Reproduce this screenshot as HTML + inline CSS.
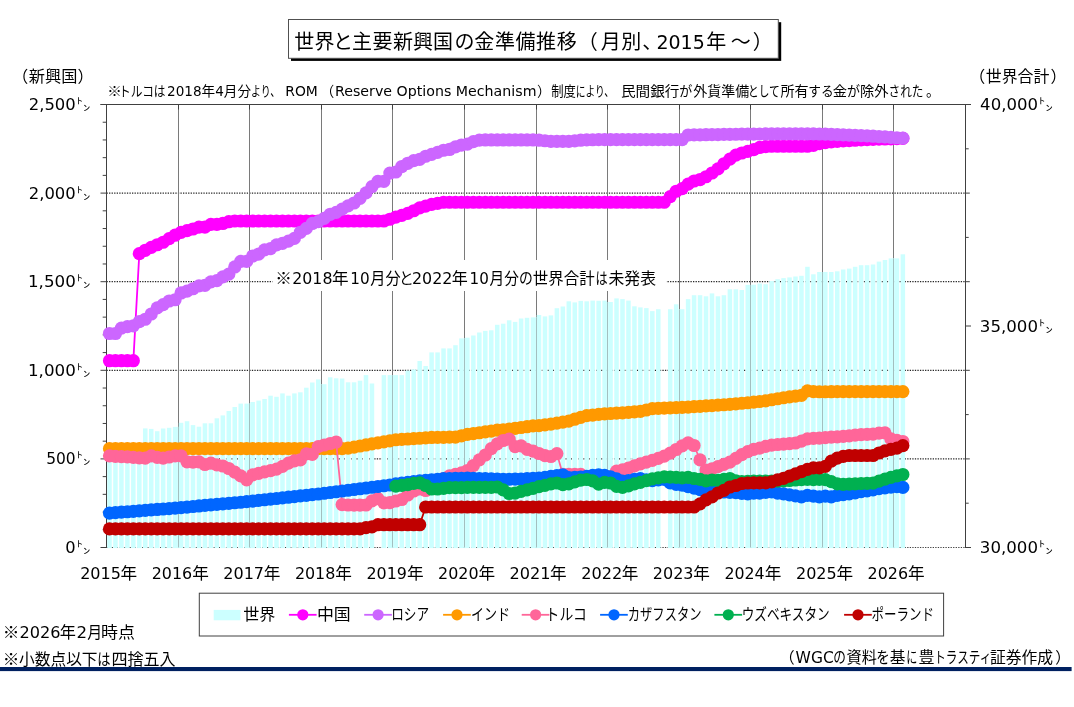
<!DOCTYPE html>
<html lang="ja"><head><meta charset="utf-8"><title>世界と主要新興国の金準備推移</title>
<style>html,body{margin:0;padding:0;background:#fff}svg{display:block}text{font-family:'Liberation Sans','Noto Sans CJK JP',sans-serif;fill:#000}.dj{font-family:'DejaVu Sans','Liberation Sans','Noto Sans CJK JP',sans-serif}.jp{font-family:'Noto Sans CJK JP',sans-serif}</style></head><body>
<svg width="1074" height="707" viewBox="0 0 1074 707">
<rect width="1074" height="707" fill="#fff"/>
<g stroke="#262626" stroke-width="1.25" fill="none">
<line x1="106.5" y1="458.9" x2="965.5" y2="458.9" stroke-dasharray="1.3 1.25"/>
<line x1="106.5" y1="370.3" x2="965.5" y2="370.3" stroke-dasharray="1.3 1.25"/>
<line x1="106.5" y1="281.7" x2="965.5" y2="281.7" stroke-dasharray="1.3 1.25"/>
<line x1="106.5" y1="193.1" x2="965.5" y2="193.1" stroke-dasharray="1.3 1.25"/>
</g>
<g stroke="#7A7A7A" stroke-width="1" fill="none">
<line x1="178.5" y1="104.5" x2="178.5" y2="547.5"/>
<line x1="249.5" y1="104.5" x2="249.5" y2="547.5"/>
<line x1="321.5" y1="104.5" x2="321.5" y2="547.5"/>
<line x1="392.5" y1="104.5" x2="392.5" y2="547.5"/>
<line x1="464.5" y1="104.5" x2="464.5" y2="547.5"/>
<line x1="536.5" y1="104.5" x2="536.5" y2="547.5"/>
<line x1="607.5" y1="104.5" x2="607.5" y2="547.5"/>
<line x1="679.5" y1="104.5" x2="679.5" y2="547.5"/>
<line x1="750.5" y1="104.5" x2="750.5" y2="547.5"/>
<line x1="822.5" y1="104.5" x2="822.5" y2="547.5"/>
<line x1="893.5" y1="104.5" x2="893.5" y2="547.5"/>
</g>
<line x1="106.5" y1="547.5" x2="965.5" y2="547.5" stroke="#404040" stroke-width="1" stroke-dasharray="1.3 1.25"/>
<g fill="#CCFFFF">
<rect x="107.23" y="455.3" width="4.5" height="92.8"/>
<rect x="113.2" y="455.3" width="4.5" height="92.8"/>
<rect x="119.16" y="455.3" width="4.5" height="92.8"/>
<rect x="125.13" y="455.3" width="4.5" height="92.8"/>
<rect x="131.09" y="455.3" width="4.5" height="92.8"/>
<rect x="137.06" y="455.3" width="4.5" height="92.8"/>
<rect x="143.02" y="428.4" width="4.5" height="119.7"/>
<rect x="148.99" y="428.9" width="4.5" height="119.2"/>
<rect x="154.95" y="431.2" width="4.5" height="116.9"/>
<rect x="160.92" y="428.5" width="4.5" height="119.6"/>
<rect x="166.89" y="427.8" width="4.5" height="120.3"/>
<rect x="172.85" y="426.9" width="4.5" height="121.2"/>
<rect x="178.82" y="422.8" width="4.5" height="125.3"/>
<rect x="184.78" y="421.2" width="4.5" height="126.9"/>
<rect x="190.75" y="425.1" width="4.5" height="123"/>
<rect x="196.71" y="426.7" width="4.5" height="121.4"/>
<rect x="202.68" y="423.3" width="4.5" height="124.8"/>
<rect x="208.64" y="423.3" width="4.5" height="124.8"/>
<rect x="214.61" y="418.3" width="4.5" height="129.8"/>
<rect x="220.57" y="415.4" width="4.5" height="132.7"/>
<rect x="226.54" y="411" width="4.5" height="137.1"/>
<rect x="232.5" y="407" width="4.5" height="141.1"/>
<rect x="238.47" y="403.6" width="4.5" height="144.5"/>
<rect x="244.43" y="403.6" width="4.5" height="144.5"/>
<rect x="250.4" y="402" width="4.5" height="146.1"/>
<rect x="256.36" y="400.6" width="4.5" height="147.5"/>
<rect x="262.33" y="399" width="4.5" height="149.1"/>
<rect x="268.3" y="395.7" width="4.5" height="152.4"/>
<rect x="274.26" y="396.8" width="4.5" height="151.3"/>
<rect x="280.23" y="393.4" width="4.5" height="154.7"/>
<rect x="286.19" y="395.7" width="4.5" height="152.4"/>
<rect x="292.16" y="393.4" width="4.5" height="154.7"/>
<rect x="298.12" y="392.3" width="4.5" height="155.8"/>
<rect x="304.09" y="387.7" width="4.5" height="160.4"/>
<rect x="310.05" y="382.5" width="4.5" height="165.6"/>
<rect x="316.02" y="379.4" width="4.5" height="168.7"/>
<rect x="321.98" y="384.2" width="4.5" height="163.9"/>
<rect x="327.95" y="377.3" width="4.5" height="170.8"/>
<rect x="333.91" y="378.3" width="4.5" height="169.8"/>
<rect x="339.88" y="378.5" width="4.5" height="169.6"/>
<rect x="345.84" y="382.3" width="4.5" height="165.8"/>
<rect x="351.81" y="382.3" width="4.5" height="165.8"/>
<rect x="357.77" y="380.7" width="4.5" height="167.4"/>
<rect x="363.74" y="375.1" width="4.5" height="173"/>
<rect x="369.7" y="383.5" width="4.5" height="164.6"/>
<rect x="381.64" y="375.1" width="4.5" height="173"/>
<rect x="387.6" y="375.1" width="4.5" height="173"/>
<rect x="393.57" y="375.1" width="4.5" height="173"/>
<rect x="399.53" y="375.1" width="4.5" height="173"/>
<rect x="405.5" y="370.6" width="4.5" height="177.5"/>
<rect x="411.46" y="369.4" width="4.5" height="178.7"/>
<rect x="417.43" y="361" width="4.5" height="187.1"/>
<rect x="423.39" y="366" width="4.5" height="182.1"/>
<rect x="429.36" y="352.4" width="4.5" height="195.7"/>
<rect x="435.32" y="352.4" width="4.5" height="195.7"/>
<rect x="441.29" y="348.4" width="4.5" height="199.7"/>
<rect x="447.25" y="348.4" width="4.5" height="199.7"/>
<rect x="453.22" y="345.2" width="4.5" height="202.9"/>
<rect x="459.18" y="338.4" width="4.5" height="209.7"/>
<rect x="465.15" y="337.7" width="4.5" height="210.4"/>
<rect x="471.11" y="335.5" width="4.5" height="212.6"/>
<rect x="477.08" y="332.5" width="4.5" height="215.6"/>
<rect x="483.05" y="330.9" width="4.5" height="217.2"/>
<rect x="489.01" y="330.3" width="4.5" height="217.8"/>
<rect x="494.98" y="324.8" width="4.5" height="223.3"/>
<rect x="500.94" y="323.7" width="4.5" height="224.4"/>
<rect x="506.91" y="320.3" width="4.5" height="227.8"/>
<rect x="512.87" y="321.9" width="4.5" height="226.2"/>
<rect x="518.84" y="318.5" width="4.5" height="229.6"/>
<rect x="524.8" y="317.8" width="4.5" height="230.3"/>
<rect x="530.77" y="317.4" width="4.5" height="230.7"/>
<rect x="536.73" y="315" width="4.5" height="233.1"/>
<rect x="542.7" y="316.4" width="4.5" height="231.7"/>
<rect x="548.66" y="315.4" width="4.5" height="232.7"/>
<rect x="554.63" y="308.2" width="4.5" height="239.9"/>
<rect x="560.59" y="306.5" width="4.5" height="241.6"/>
<rect x="566.56" y="301.3" width="4.5" height="246.8"/>
<rect x="572.52" y="302.4" width="4.5" height="245.7"/>
<rect x="578.49" y="300.9" width="4.5" height="247.2"/>
<rect x="584.45" y="301.3" width="4.5" height="246.8"/>
<rect x="590.42" y="300.6" width="4.5" height="247.5"/>
<rect x="596.39" y="300.8" width="4.5" height="247.3"/>
<rect x="602.35" y="300.6" width="4.5" height="247.5"/>
<rect x="608.32" y="302" width="4.5" height="246.1"/>
<rect x="614.28" y="298.4" width="4.5" height="249.7"/>
<rect x="620.25" y="299.1" width="4.5" height="249"/>
<rect x="626.21" y="300.6" width="4.5" height="247.5"/>
<rect x="632.18" y="306.3" width="4.5" height="241.8"/>
<rect x="638.14" y="307.4" width="4.5" height="240.7"/>
<rect x="644.11" y="308.1" width="4.5" height="240"/>
<rect x="650.07" y="311.1" width="4.5" height="237"/>
<rect x="656.04" y="309.2" width="4.5" height="238.9"/>
<rect x="667.97" y="309.2" width="4.5" height="238.9"/>
<rect x="673.93" y="304.3" width="4.5" height="243.8"/>
<rect x="679.9" y="309.2" width="4.5" height="238.9"/>
<rect x="685.86" y="299.1" width="4.5" height="249"/>
<rect x="691.83" y="295.2" width="4.5" height="252.9"/>
<rect x="697.8" y="295.2" width="4.5" height="252.9"/>
<rect x="703.76" y="296.3" width="4.5" height="251.8"/>
<rect x="709.73" y="293.4" width="4.5" height="254.7"/>
<rect x="715.69" y="296.3" width="4.5" height="251.8"/>
<rect x="721.66" y="295.2" width="4.5" height="252.9"/>
<rect x="727.62" y="289.3" width="4.5" height="258.8"/>
<rect x="733.59" y="289.3" width="4.5" height="258.8"/>
<rect x="739.55" y="290" width="4.5" height="258.1"/>
<rect x="745.52" y="284.9" width="4.5" height="263.2"/>
<rect x="751.48" y="284.7" width="4.5" height="263.4"/>
<rect x="757.45" y="283.5" width="4.5" height="264.6"/>
<rect x="763.41" y="284.2" width="4.5" height="263.9"/>
<rect x="769.38" y="281" width="4.5" height="267.1"/>
<rect x="775.34" y="279.2" width="4.5" height="268.9"/>
<rect x="781.31" y="278.1" width="4.5" height="270"/>
<rect x="787.27" y="277.4" width="4.5" height="270.7"/>
<rect x="793.24" y="276.5" width="4.5" height="271.6"/>
<rect x="799.2" y="275.8" width="4.5" height="272.3"/>
<rect x="805.17" y="266.8" width="4.5" height="281.3"/>
<rect x="811.14" y="274.3" width="4.5" height="273.8"/>
<rect x="817.1" y="272" width="4.5" height="276.1"/>
<rect x="823.07" y="272" width="4.5" height="276.1"/>
<rect x="829.03" y="272" width="4.5" height="276.1"/>
<rect x="835" y="271.3" width="4.5" height="276.8"/>
<rect x="840.96" y="269.5" width="4.5" height="278.6"/>
<rect x="846.93" y="268.6" width="4.5" height="279.5"/>
<rect x="852.89" y="266.8" width="4.5" height="281.3"/>
<rect x="858.86" y="265.2" width="4.5" height="282.9"/>
<rect x="864.82" y="265.2" width="4.5" height="282.9"/>
<rect x="870.79" y="264.5" width="4.5" height="283.6"/>
<rect x="876.75" y="261.6" width="4.5" height="286.5"/>
<rect x="882.72" y="260" width="4.5" height="288.1"/>
<rect x="888.68" y="258.4" width="4.5" height="289.7"/>
<rect x="894.65" y="258.4" width="4.5" height="289.7"/>
<rect x="900.61" y="254.3" width="4.5" height="293.8"/>
</g>
<rect x="177.15" y="426.9" width="1.87" height="121.2" fill="#CCFFFF"/>
<line x1="178.5" y1="426.9" x2="178.5" y2="547.5" stroke="#A3BFBF" stroke-width="1"/>
<rect x="248.73" y="403.6" width="1.87" height="144.5" fill="#CCFFFF"/>
<line x1="249.5" y1="403.6" x2="249.5" y2="547.5" stroke="#A3BFBF" stroke-width="1"/>
<rect x="320.32" y="384.2" width="1.87" height="163.9" fill="#CCFFFF"/>
<line x1="321.5" y1="384.2" x2="321.5" y2="547.5" stroke="#A3BFBF" stroke-width="1"/>
<rect x="391.9" y="375.1" width="1.87" height="173" fill="#CCFFFF"/>
<line x1="392.5" y1="375.1" x2="392.5" y2="547.5" stroke="#A3BFBF" stroke-width="1"/>
<rect x="463.48" y="338.4" width="1.87" height="209.7" fill="#CCFFFF"/>
<line x1="464.5" y1="338.4" x2="464.5" y2="547.5" stroke="#A3BFBF" stroke-width="1"/>
<rect x="535.07" y="317.4" width="1.87" height="230.7" fill="#CCFFFF"/>
<line x1="536.5" y1="317.4" x2="536.5" y2="547.5" stroke="#A3BFBF" stroke-width="1"/>
<rect x="606.65" y="302" width="1.87" height="246.1" fill="#CCFFFF"/>
<line x1="607.5" y1="302" x2="607.5" y2="547.5" stroke="#A3BFBF" stroke-width="1"/>
<rect x="678.23" y="309.2" width="1.87" height="238.9" fill="#CCFFFF"/>
<line x1="679.5" y1="309.2" x2="679.5" y2="547.5" stroke="#A3BFBF" stroke-width="1"/>
<rect x="749.82" y="284.9" width="1.87" height="263.2" fill="#CCFFFF"/>
<line x1="750.5" y1="284.9" x2="750.5" y2="547.5" stroke="#A3BFBF" stroke-width="1"/>
<rect x="821.4" y="272" width="1.87" height="276.1" fill="#CCFFFF"/>
<line x1="822.5" y1="272" x2="822.5" y2="547.5" stroke="#A3BFBF" stroke-width="1"/>
<rect x="892.98" y="258.4" width="1.87" height="289.7" fill="#CCFFFF"/>
<line x1="893.5" y1="258.4" x2="893.5" y2="547.5" stroke="#A3BFBF" stroke-width="1"/>
<g stroke="#404040" stroke-width="1" fill="none">
<line x1="106.5" y1="104" x2="106.5" y2="548"/>
<line x1="965.5" y1="104" x2="965.5" y2="548"/>
<line x1="100.5" y1="104.5" x2="971" y2="104.5"/>
<line x1="178.5" y1="104.5" x2="178.5" y2="109.5" stroke-width="1"/>
<line x1="249.5" y1="104.5" x2="249.5" y2="109.5" stroke-width="1"/>
<line x1="321.5" y1="104.5" x2="321.5" y2="109.5" stroke-width="1"/>
<line x1="392.5" y1="104.5" x2="392.5" y2="109.5" stroke-width="1"/>
<line x1="464.5" y1="104.5" x2="464.5" y2="109.5" stroke-width="1"/>
<line x1="536.5" y1="104.5" x2="536.5" y2="109.5" stroke-width="1"/>
<line x1="607.5" y1="104.5" x2="607.5" y2="109.5" stroke-width="1"/>
<line x1="679.5" y1="104.5" x2="679.5" y2="109.5" stroke-width="1"/>
<line x1="750.5" y1="104.5" x2="750.5" y2="109.5" stroke-width="1"/>
<line x1="822.5" y1="104.5" x2="822.5" y2="109.5" stroke-width="1"/>
<line x1="893.5" y1="104.5" x2="893.5" y2="109.5" stroke-width="1"/>
<line x1="100.5" y1="547.5" x2="106.5" y2="547.5" stroke-width="1"/>
<line x1="102.7" y1="529.78" x2="106.5" y2="529.78" stroke-width="1"/>
<line x1="102.7" y1="512.06" x2="106.5" y2="512.06" stroke-width="1"/>
<line x1="102.7" y1="494.34" x2="106.5" y2="494.34" stroke-width="1"/>
<line x1="102.7" y1="476.62" x2="106.5" y2="476.62" stroke-width="1"/>
<line x1="100.5" y1="458.9" x2="106.5" y2="458.9" stroke-width="1"/>
<line x1="102.7" y1="441.18" x2="106.5" y2="441.18" stroke-width="1"/>
<line x1="102.7" y1="423.46" x2="106.5" y2="423.46" stroke-width="1"/>
<line x1="102.7" y1="405.74" x2="106.5" y2="405.74" stroke-width="1"/>
<line x1="102.7" y1="388.02" x2="106.5" y2="388.02" stroke-width="1"/>
<line x1="100.5" y1="370.3" x2="106.5" y2="370.3" stroke-width="1"/>
<line x1="102.7" y1="352.58" x2="106.5" y2="352.58" stroke-width="1"/>
<line x1="102.7" y1="334.86" x2="106.5" y2="334.86" stroke-width="1"/>
<line x1="102.7" y1="317.14" x2="106.5" y2="317.14" stroke-width="1"/>
<line x1="102.7" y1="299.42" x2="106.5" y2="299.42" stroke-width="1"/>
<line x1="100.5" y1="281.7" x2="106.5" y2="281.7" stroke-width="1"/>
<line x1="102.7" y1="263.98" x2="106.5" y2="263.98" stroke-width="1"/>
<line x1="102.7" y1="246.26" x2="106.5" y2="246.26" stroke-width="1"/>
<line x1="102.7" y1="228.54" x2="106.5" y2="228.54" stroke-width="1"/>
<line x1="102.7" y1="210.82" x2="106.5" y2="210.82" stroke-width="1"/>
<line x1="100.5" y1="193.1" x2="106.5" y2="193.1" stroke-width="1"/>
<line x1="102.7" y1="175.38" x2="106.5" y2="175.38" stroke-width="1"/>
<line x1="102.7" y1="157.66" x2="106.5" y2="157.66" stroke-width="1"/>
<line x1="102.7" y1="139.94" x2="106.5" y2="139.94" stroke-width="1"/>
<line x1="102.7" y1="122.22" x2="106.5" y2="122.22" stroke-width="1"/>
<line x1="100.5" y1="104.5" x2="106.5" y2="104.5" stroke-width="1"/>
<line x1="965.5" y1="547.5" x2="971" y2="547.5" stroke-width="1"/>
<line x1="965.5" y1="503.2" x2="968.7" y2="503.2" stroke-width="1"/>
<line x1="965.5" y1="458.9" x2="969.8" y2="458.9" stroke-width="1"/>
<line x1="965.5" y1="414.6" x2="968.7" y2="414.6" stroke-width="1"/>
<line x1="965.5" y1="370.3" x2="969.8" y2="370.3" stroke-width="1"/>
<line x1="965.5" y1="326" x2="971" y2="326" stroke-width="1"/>
<line x1="965.5" y1="281.7" x2="969.8" y2="281.7" stroke-width="1"/>
<line x1="965.5" y1="237.4" x2="968.7" y2="237.4" stroke-width="1"/>
<line x1="965.5" y1="193.1" x2="969.8" y2="193.1" stroke-width="1"/>
<line x1="965.5" y1="148.8" x2="968.7" y2="148.8" stroke-width="1"/>
<line x1="965.5" y1="104.5" x2="971" y2="104.5" stroke-width="1"/>
</g>
<rect x="272.5" y="260" width="394.2" height="31" fill="#fff"/>
<g>
<polyline fill="none" stroke="#FF00FF" stroke-width="1.8" stroke-linejoin="round" points="109.48,360.71 115.45,360.71 121.41,360.71 127.38,360.71 133.34,360.71 139.31,253.68 145.27,250.28 151.24,247.39 157.2,244.75 163.17,242.27 169.14,238.57 175.1,235.22 181.07,232.35 187.03,230.6 193,228.98 198.96,227.07 204.93,227.07 210.89,224.41 216.86,224.41 222.82,223.47 228.79,221.72 234.75,220.99 240.72,220.99 246.68,220.99 252.65,220.99 258.61,220.99 264.58,220.99 270.55,220.99 276.51,220.99 282.48,220.99 288.44,220.99 294.41,220.99 300.37,220.99 306.34,220.99 312.3,220.99 318.27,220.99 324.23,220.99 330.2,220.99 336.16,220.99 342.13,220.99 348.09,220.99 354.06,220.99 360.02,220.99 365.99,220.99 371.95,220.99 377.92,220.99 383.89,220.99 389.85,219.24 395.82,217.15 401.78,215.37 407.75,213.39 413.71,210.75 419.68,207.93 425.64,206.12 431.61,204.35 437.57,203.31 443.54,202.26 449.5,202.26 455.47,202.26 461.43,202.26 467.4,202.26 473.36,202.26 479.33,202.26 485.3,202.26 491.26,202.26 497.23,202.26 503.19,202.26 509.16,202.26 515.12,202.26 521.09,202.26 527.05,202.26 533.02,202.26 538.98,202.26 544.95,202.26 550.91,202.26 556.88,202.26 562.84,202.26 568.81,202.26 574.77,202.26 580.74,202.26 586.7,202.26 592.67,202.26 598.64,202.26 604.6,202.26 610.57,202.26 616.53,202.26 622.5,202.26 628.46,202.26 634.43,202.26 640.39,202.26 646.36,202.26 652.32,202.26 658.29,202.26 664.25,202.26 670.22,196.59 676.18,191.24 682.15,188.6 688.11,184.19 694.08,180.98 700.05,179.54 706.01,176.73 711.98,172.99 717.94,168.91 723.91,163.79 729.87,159.17 735.84,155.07 741.8,152.98 747.77,151.39 753.73,149.62 759.7,147.47 765.66,146.59 771.63,146.27 777.59,146.27 783.56,146.27 789.52,146.27 795.49,146.27 801.45,146.27 807.42,146.27 813.39,145.38 819.35,143.55 825.32,142.69 831.28,141.8 837.25,141.3 843.21,140.91 849.18,140.58 855.14,140.21 861.11,139.87 867.07,139.53 873.04,139.32 879,139.14 884.97,138.98 890.93,138.82 896.9,138.59 902.86,138.43"/>
<g fill="#FF00FF">
<circle cx="109.48" cy="360.71" r="6.6"/>
<circle cx="115.45" cy="360.71" r="6.6"/>
<circle cx="121.41" cy="360.71" r="6.6"/>
<circle cx="127.38" cy="360.71" r="6.6"/>
<circle cx="133.34" cy="360.71" r="6.6"/>
<circle cx="139.31" cy="253.68" r="6.6"/>
<circle cx="145.27" cy="250.28" r="6.6"/>
<circle cx="151.24" cy="247.39" r="6.6"/>
<circle cx="157.2" cy="244.75" r="6.6"/>
<circle cx="163.17" cy="242.27" r="6.6"/>
<circle cx="169.14" cy="238.57" r="6.6"/>
<circle cx="175.1" cy="235.22" r="6.6"/>
<circle cx="181.07" cy="232.35" r="6.6"/>
<circle cx="187.03" cy="230.6" r="6.6"/>
<circle cx="193" cy="228.98" r="6.6"/>
<circle cx="198.96" cy="227.07" r="6.6"/>
<circle cx="204.93" cy="227.07" r="6.6"/>
<circle cx="210.89" cy="224.41" r="6.6"/>
<circle cx="216.86" cy="224.41" r="6.6"/>
<circle cx="222.82" cy="223.47" r="6.6"/>
<circle cx="228.79" cy="221.72" r="6.6"/>
<circle cx="234.75" cy="220.99" r="6.6"/>
<circle cx="240.72" cy="220.99" r="6.6"/>
<circle cx="246.68" cy="220.99" r="6.6"/>
<circle cx="252.65" cy="220.99" r="6.6"/>
<circle cx="258.61" cy="220.99" r="6.6"/>
<circle cx="264.58" cy="220.99" r="6.6"/>
<circle cx="270.55" cy="220.99" r="6.6"/>
<circle cx="276.51" cy="220.99" r="6.6"/>
<circle cx="282.48" cy="220.99" r="6.6"/>
<circle cx="288.44" cy="220.99" r="6.6"/>
<circle cx="294.41" cy="220.99" r="6.6"/>
<circle cx="300.37" cy="220.99" r="6.6"/>
<circle cx="306.34" cy="220.99" r="6.6"/>
<circle cx="312.3" cy="220.99" r="6.6"/>
<circle cx="318.27" cy="220.99" r="6.6"/>
<circle cx="324.23" cy="220.99" r="6.6"/>
<circle cx="330.2" cy="220.99" r="6.6"/>
<circle cx="336.16" cy="220.99" r="6.6"/>
<circle cx="342.13" cy="220.99" r="6.6"/>
<circle cx="348.09" cy="220.99" r="6.6"/>
<circle cx="354.06" cy="220.99" r="6.6"/>
<circle cx="360.02" cy="220.99" r="6.6"/>
<circle cx="365.99" cy="220.99" r="6.6"/>
<circle cx="371.95" cy="220.99" r="6.6"/>
<circle cx="377.92" cy="220.99" r="6.6"/>
<circle cx="383.89" cy="220.99" r="6.6"/>
<circle cx="389.85" cy="219.24" r="6.6"/>
<circle cx="395.82" cy="217.15" r="6.6"/>
<circle cx="401.78" cy="215.37" r="6.6"/>
<circle cx="407.75" cy="213.39" r="6.6"/>
<circle cx="413.71" cy="210.75" r="6.6"/>
<circle cx="419.68" cy="207.93" r="6.6"/>
<circle cx="425.64" cy="206.12" r="6.6"/>
<circle cx="431.61" cy="204.35" r="6.6"/>
<circle cx="437.57" cy="203.31" r="6.6"/>
<circle cx="443.54" cy="202.26" r="6.6"/>
<circle cx="449.5" cy="202.26" r="6.6"/>
<circle cx="455.47" cy="202.26" r="6.6"/>
<circle cx="461.43" cy="202.26" r="6.6"/>
<circle cx="467.4" cy="202.26" r="6.6"/>
<circle cx="473.36" cy="202.26" r="6.6"/>
<circle cx="479.33" cy="202.26" r="6.6"/>
<circle cx="485.3" cy="202.26" r="6.6"/>
<circle cx="491.26" cy="202.26" r="6.6"/>
<circle cx="497.23" cy="202.26" r="6.6"/>
<circle cx="503.19" cy="202.26" r="6.6"/>
<circle cx="509.16" cy="202.26" r="6.6"/>
<circle cx="515.12" cy="202.26" r="6.6"/>
<circle cx="521.09" cy="202.26" r="6.6"/>
<circle cx="527.05" cy="202.26" r="6.6"/>
<circle cx="533.02" cy="202.26" r="6.6"/>
<circle cx="538.98" cy="202.26" r="6.6"/>
<circle cx="544.95" cy="202.26" r="6.6"/>
<circle cx="550.91" cy="202.26" r="6.6"/>
<circle cx="556.88" cy="202.26" r="6.6"/>
<circle cx="562.84" cy="202.26" r="6.6"/>
<circle cx="568.81" cy="202.26" r="6.6"/>
<circle cx="574.77" cy="202.26" r="6.6"/>
<circle cx="580.74" cy="202.26" r="6.6"/>
<circle cx="586.7" cy="202.26" r="6.6"/>
<circle cx="592.67" cy="202.26" r="6.6"/>
<circle cx="598.64" cy="202.26" r="6.6"/>
<circle cx="604.6" cy="202.26" r="6.6"/>
<circle cx="610.57" cy="202.26" r="6.6"/>
<circle cx="616.53" cy="202.26" r="6.6"/>
<circle cx="622.5" cy="202.26" r="6.6"/>
<circle cx="628.46" cy="202.26" r="6.6"/>
<circle cx="634.43" cy="202.26" r="6.6"/>
<circle cx="640.39" cy="202.26" r="6.6"/>
<circle cx="646.36" cy="202.26" r="6.6"/>
<circle cx="652.32" cy="202.26" r="6.6"/>
<circle cx="658.29" cy="202.26" r="6.6"/>
<circle cx="664.25" cy="202.26" r="6.6"/>
<circle cx="670.22" cy="196.59" r="6.6"/>
<circle cx="676.18" cy="191.24" r="6.6"/>
<circle cx="682.15" cy="188.6" r="6.6"/>
<circle cx="688.11" cy="184.19" r="6.6"/>
<circle cx="694.08" cy="180.98" r="6.6"/>
<circle cx="700.05" cy="179.54" r="6.6"/>
<circle cx="706.01" cy="176.73" r="6.6"/>
<circle cx="711.98" cy="172.99" r="6.6"/>
<circle cx="717.94" cy="168.91" r="6.6"/>
<circle cx="723.91" cy="163.79" r="6.6"/>
<circle cx="729.87" cy="159.17" r="6.6"/>
<circle cx="735.84" cy="155.07" r="6.6"/>
<circle cx="741.8" cy="152.98" r="6.6"/>
<circle cx="747.77" cy="151.39" r="6.6"/>
<circle cx="753.73" cy="149.62" r="6.6"/>
<circle cx="759.7" cy="147.47" r="6.6"/>
<circle cx="765.66" cy="146.59" r="6.6"/>
<circle cx="771.63" cy="146.27" r="6.6"/>
<circle cx="777.59" cy="146.27" r="6.6"/>
<circle cx="783.56" cy="146.27" r="6.6"/>
<circle cx="789.52" cy="146.27" r="6.6"/>
<circle cx="795.49" cy="146.27" r="6.6"/>
<circle cx="801.45" cy="146.27" r="6.6"/>
<circle cx="807.42" cy="146.27" r="6.6"/>
<circle cx="813.39" cy="145.38" r="6.6"/>
<circle cx="819.35" cy="143.55" r="6.6"/>
<circle cx="825.32" cy="142.69" r="6.6"/>
<circle cx="831.28" cy="141.8" r="6.6"/>
<circle cx="837.25" cy="141.3" r="6.6"/>
<circle cx="843.21" cy="140.91" r="6.6"/>
<circle cx="849.18" cy="140.58" r="6.6"/>
<circle cx="855.14" cy="140.21" r="6.6"/>
<circle cx="861.11" cy="139.87" r="6.6"/>
<circle cx="867.07" cy="139.53" r="6.6"/>
<circle cx="873.04" cy="139.32" r="6.6"/>
<circle cx="879" cy="139.14" r="6.6"/>
<circle cx="884.97" cy="138.98" r="6.6"/>
<circle cx="890.93" cy="138.82" r="6.6"/>
<circle cx="896.9" cy="138.59" r="6.6"/>
<circle cx="902.86" cy="138.43" r="6.6"/>
</g></g>
<g>
<polyline fill="none" stroke="#CC66FF" stroke-width="1.8" stroke-linejoin="round" points="109.48,333.5 115.45,333.5 121.41,328.13 127.38,326.6 133.34,325.84 139.31,321.57 145.27,319.23 151.24,314 157.2,307.89 163.17,304.67 169.14,301.01 175.1,299.77 181.07,292.97 187.03,291.16 193,288.75 198.96,285.94 204.93,285.33 210.89,281.93 216.86,280.67 222.82,276.95 228.79,274.13 234.75,266.97 240.72,261.39 246.68,261.39 252.65,256.01 258.61,254.18 264.58,249.8 270.55,248.6 276.51,244.84 282.48,243.3 288.44,241.12 294.41,238.34 300.37,232.28 306.34,228.33 312.3,223.47 318.27,221.66 324.23,218.32 330.2,214.28 336.16,212.4 342.13,209.08 348.09,205.82 354.06,203.02 360.02,198.42 365.99,192.92 371.95,186.69 377.92,181.37 383.89,181.37 389.85,173.08 395.82,171.98 401.78,166.54 407.75,163.28 413.71,160.6 419.68,159.41 425.64,156.26 431.61,154.36 437.57,152.34 443.54,150.24 449.5,149.47 455.47,146.83 461.43,145.04 467.4,144.14 473.36,141.68 479.33,140.08 485.3,139.96 491.26,139.96 497.23,139.96 503.19,139.96 509.16,139.96 515.12,139.96 521.09,139.96 527.05,139.96 533.02,139.96 538.98,140.21 544.95,140.76 550.91,141.3 556.88,141.3 562.84,141.3 568.81,141.3 574.77,140.83 580.74,140.21 586.7,139.94 592.67,139.76 598.64,139.66 604.6,139.66 610.57,139.66 616.53,139.66 622.5,139.66 628.46,139.66 634.43,139.66 640.39,139.66 646.36,139.66 652.32,139.66 658.29,139.66 664.25,139.66 670.22,139.66 676.18,139.66 682.15,139.66 688.11,134.98 694.08,134.89 700.05,134.8 706.01,134.71 711.98,134.62 717.94,134.54 723.91,134.45 729.87,134.36 735.84,134.27 741.8,134.18 747.77,134.09 753.73,134.09 759.7,134 765.66,133.92 771.63,133.83 777.59,133.74 783.56,133.74 789.52,133.74 795.49,133.74 801.45,133.74 807.42,133.83 813.39,133.92 819.35,134 825.32,134.09 831.28,134.36 837.25,134.62 843.21,134.89 849.18,135.16 855.14,135.42 861.11,135.69 867.07,135.95 873.04,136.22 879,136.57 884.97,136.93 890.93,137.28 896.9,137.73 902.86,138.17"/>
<g fill="#CC66FF">
<circle cx="109.48" cy="333.5" r="6.6"/>
<circle cx="115.45" cy="333.5" r="6.6"/>
<circle cx="121.41" cy="328.13" r="6.6"/>
<circle cx="127.38" cy="326.6" r="6.6"/>
<circle cx="133.34" cy="325.84" r="6.6"/>
<circle cx="139.31" cy="321.57" r="6.6"/>
<circle cx="145.27" cy="319.23" r="6.6"/>
<circle cx="151.24" cy="314" r="6.6"/>
<circle cx="157.2" cy="307.89" r="6.6"/>
<circle cx="163.17" cy="304.67" r="6.6"/>
<circle cx="169.14" cy="301.01" r="6.6"/>
<circle cx="175.1" cy="299.77" r="6.6"/>
<circle cx="181.07" cy="292.97" r="6.6"/>
<circle cx="187.03" cy="291.16" r="6.6"/>
<circle cx="193" cy="288.75" r="6.6"/>
<circle cx="198.96" cy="285.94" r="6.6"/>
<circle cx="204.93" cy="285.33" r="6.6"/>
<circle cx="210.89" cy="281.93" r="6.6"/>
<circle cx="216.86" cy="280.67" r="6.6"/>
<circle cx="222.82" cy="276.95" r="6.6"/>
<circle cx="228.79" cy="274.13" r="6.6"/>
<circle cx="234.75" cy="266.97" r="6.6"/>
<circle cx="240.72" cy="261.39" r="6.6"/>
<circle cx="246.68" cy="261.39" r="6.6"/>
<circle cx="252.65" cy="256.01" r="6.6"/>
<circle cx="258.61" cy="254.18" r="6.6"/>
<circle cx="264.58" cy="249.8" r="6.6"/>
<circle cx="270.55" cy="248.6" r="6.6"/>
<circle cx="276.51" cy="244.84" r="6.6"/>
<circle cx="282.48" cy="243.3" r="6.6"/>
<circle cx="288.44" cy="241.12" r="6.6"/>
<circle cx="294.41" cy="238.34" r="6.6"/>
<circle cx="300.37" cy="232.28" r="6.6"/>
<circle cx="306.34" cy="228.33" r="6.6"/>
<circle cx="312.3" cy="223.47" r="6.6"/>
<circle cx="318.27" cy="221.66" r="6.6"/>
<circle cx="324.23" cy="218.32" r="6.6"/>
<circle cx="330.2" cy="214.28" r="6.6"/>
<circle cx="336.16" cy="212.4" r="6.6"/>
<circle cx="342.13" cy="209.08" r="6.6"/>
<circle cx="348.09" cy="205.82" r="6.6"/>
<circle cx="354.06" cy="203.02" r="6.6"/>
<circle cx="360.02" cy="198.42" r="6.6"/>
<circle cx="365.99" cy="192.92" r="6.6"/>
<circle cx="371.95" cy="186.69" r="6.6"/>
<circle cx="377.92" cy="181.37" r="6.6"/>
<circle cx="383.89" cy="181.37" r="6.6"/>
<circle cx="389.85" cy="173.08" r="6.6"/>
<circle cx="395.82" cy="171.98" r="6.6"/>
<circle cx="401.78" cy="166.54" r="6.6"/>
<circle cx="407.75" cy="163.28" r="6.6"/>
<circle cx="413.71" cy="160.6" r="6.6"/>
<circle cx="419.68" cy="159.41" r="6.6"/>
<circle cx="425.64" cy="156.26" r="6.6"/>
<circle cx="431.61" cy="154.36" r="6.6"/>
<circle cx="437.57" cy="152.34" r="6.6"/>
<circle cx="443.54" cy="150.24" r="6.6"/>
<circle cx="449.5" cy="149.47" r="6.6"/>
<circle cx="455.47" cy="146.83" r="6.6"/>
<circle cx="461.43" cy="145.04" r="6.6"/>
<circle cx="467.4" cy="144.14" r="6.6"/>
<circle cx="473.36" cy="141.68" r="6.6"/>
<circle cx="479.33" cy="140.08" r="6.6"/>
<circle cx="485.3" cy="139.96" r="6.6"/>
<circle cx="491.26" cy="139.96" r="6.6"/>
<circle cx="497.23" cy="139.96" r="6.6"/>
<circle cx="503.19" cy="139.96" r="6.6"/>
<circle cx="509.16" cy="139.96" r="6.6"/>
<circle cx="515.12" cy="139.96" r="6.6"/>
<circle cx="521.09" cy="139.96" r="6.6"/>
<circle cx="527.05" cy="139.96" r="6.6"/>
<circle cx="533.02" cy="139.96" r="6.6"/>
<circle cx="538.98" cy="140.21" r="6.6"/>
<circle cx="544.95" cy="140.76" r="6.6"/>
<circle cx="550.91" cy="141.3" r="6.6"/>
<circle cx="556.88" cy="141.3" r="6.6"/>
<circle cx="562.84" cy="141.3" r="6.6"/>
<circle cx="568.81" cy="141.3" r="6.6"/>
<circle cx="574.77" cy="140.83" r="6.6"/>
<circle cx="580.74" cy="140.21" r="6.6"/>
<circle cx="586.7" cy="139.94" r="6.6"/>
<circle cx="592.67" cy="139.76" r="6.6"/>
<circle cx="598.64" cy="139.66" r="6.6"/>
<circle cx="604.6" cy="139.66" r="6.6"/>
<circle cx="610.57" cy="139.66" r="6.6"/>
<circle cx="616.53" cy="139.66" r="6.6"/>
<circle cx="622.5" cy="139.66" r="6.6"/>
<circle cx="628.46" cy="139.66" r="6.6"/>
<circle cx="634.43" cy="139.66" r="6.6"/>
<circle cx="640.39" cy="139.66" r="6.6"/>
<circle cx="646.36" cy="139.66" r="6.6"/>
<circle cx="652.32" cy="139.66" r="6.6"/>
<circle cx="658.29" cy="139.66" r="6.6"/>
<circle cx="664.25" cy="139.66" r="6.6"/>
<circle cx="670.22" cy="139.66" r="6.6"/>
<circle cx="676.18" cy="139.66" r="6.6"/>
<circle cx="682.15" cy="139.66" r="6.6"/>
<circle cx="688.11" cy="134.98" r="6.6"/>
<circle cx="694.08" cy="134.89" r="6.6"/>
<circle cx="700.05" cy="134.8" r="6.6"/>
<circle cx="706.01" cy="134.71" r="6.6"/>
<circle cx="711.98" cy="134.62" r="6.6"/>
<circle cx="717.94" cy="134.54" r="6.6"/>
<circle cx="723.91" cy="134.45" r="6.6"/>
<circle cx="729.87" cy="134.36" r="6.6"/>
<circle cx="735.84" cy="134.27" r="6.6"/>
<circle cx="741.8" cy="134.18" r="6.6"/>
<circle cx="747.77" cy="134.09" r="6.6"/>
<circle cx="753.73" cy="134.09" r="6.6"/>
<circle cx="759.7" cy="134" r="6.6"/>
<circle cx="765.66" cy="133.92" r="6.6"/>
<circle cx="771.63" cy="133.83" r="6.6"/>
<circle cx="777.59" cy="133.74" r="6.6"/>
<circle cx="783.56" cy="133.74" r="6.6"/>
<circle cx="789.52" cy="133.74" r="6.6"/>
<circle cx="795.49" cy="133.74" r="6.6"/>
<circle cx="801.45" cy="133.74" r="6.6"/>
<circle cx="807.42" cy="133.83" r="6.6"/>
<circle cx="813.39" cy="133.92" r="6.6"/>
<circle cx="819.35" cy="134" r="6.6"/>
<circle cx="825.32" cy="134.09" r="6.6"/>
<circle cx="831.28" cy="134.36" r="6.6"/>
<circle cx="837.25" cy="134.62" r="6.6"/>
<circle cx="843.21" cy="134.89" r="6.6"/>
<circle cx="849.18" cy="135.16" r="6.6"/>
<circle cx="855.14" cy="135.42" r="6.6"/>
<circle cx="861.11" cy="135.69" r="6.6"/>
<circle cx="867.07" cy="135.95" r="6.6"/>
<circle cx="873.04" cy="136.22" r="6.6"/>
<circle cx="879" cy="136.57" r="6.6"/>
<circle cx="884.97" cy="136.93" r="6.6"/>
<circle cx="890.93" cy="137.28" r="6.6"/>
<circle cx="896.9" cy="137.73" r="6.6"/>
<circle cx="902.86" cy="138.17" r="6.6"/>
</g></g>
<g>
<polyline fill="none" stroke="#FF9900" stroke-width="1.8" stroke-linejoin="round" points="109.48,448.68 115.45,448.67 121.41,448.67 127.38,448.67 133.34,448.67 139.31,448.67 145.27,448.67 151.24,448.67 157.2,448.67 163.17,448.67 169.14,448.67 175.1,448.67 181.07,448.66 187.03,448.66 193,448.66 198.96,448.66 204.93,448.66 210.89,448.66 216.86,448.66 222.82,448.66 228.79,448.66 234.75,448.66 240.72,448.66 246.68,448.65 252.65,448.65 258.61,448.65 264.58,448.65 270.55,448.65 276.51,448.65 282.48,448.65 288.44,448.65 294.41,448.65 300.37,448.65 306.34,448.65 312.3,448.64 318.27,448.64 324.23,448.64 330.2,448.64 336.16,448.64 342.13,448.64 348.09,448.09 354.06,447.05 360.02,446.01 365.99,444.97 371.95,443.93 377.92,442.89 383.89,441.84 389.85,440.8 395.82,439.76 401.78,439.38 407.75,438.99 413.71,438.61 419.68,438.23 425.64,437.84 431.61,437.46 437.57,437.37 443.54,437.28 449.5,437.19 455.47,437.1 461.43,435.78 467.4,434.45 473.36,433.6 479.33,432.75 485.3,431.89 491.26,431.04 497.23,430.19 503.19,429.84 509.16,429.06 515.12,428.28 521.09,427.5 527.05,426.72 533.02,425.94 538.98,425.59 544.95,424.88 550.91,424.17 556.88,423.16 562.84,422.16 568.81,421.16 574.77,419.21 580.74,417.44 586.7,415.66 592.67,415.04 598.64,414.42 604.6,413.8 610.57,413.48 616.53,413.15 622.5,412.83 628.46,412.36 634.43,411.88 640.39,411.41 646.36,409.99 652.32,408.58 658.29,408.31 664.25,408.1 670.22,407.9 676.18,407.69 682.15,407.36 688.11,407.03 694.08,406.7 700.05,406.32 706.01,405.94 711.98,405.56 717.94,405.15 723.91,404.74 729.87,404.32 735.84,403.79 741.8,403.26 747.77,402.73 753.73,402.2 759.7,401.49 765.66,400.78 771.63,399.77 777.59,398.77 783.56,397.77 789.52,396.94 795.49,396.11 801.45,395.29 807.42,390.86 813.39,391.56 819.35,391.74 825.32,391.73 831.28,391.72 837.25,391.7 843.21,391.69 849.18,391.68 855.14,391.67 861.11,391.65 867.07,391.64 873.04,391.63 879,391.61 884.97,391.6 890.93,391.59 896.9,391.58 902.86,391.56"/>
<g fill="#FF9900">
<circle cx="109.48" cy="448.68" r="6.6"/>
<circle cx="115.45" cy="448.67" r="6.6"/>
<circle cx="121.41" cy="448.67" r="6.6"/>
<circle cx="127.38" cy="448.67" r="6.6"/>
<circle cx="133.34" cy="448.67" r="6.6"/>
<circle cx="139.31" cy="448.67" r="6.6"/>
<circle cx="145.27" cy="448.67" r="6.6"/>
<circle cx="151.24" cy="448.67" r="6.6"/>
<circle cx="157.2" cy="448.67" r="6.6"/>
<circle cx="163.17" cy="448.67" r="6.6"/>
<circle cx="169.14" cy="448.67" r="6.6"/>
<circle cx="175.1" cy="448.67" r="6.6"/>
<circle cx="181.07" cy="448.66" r="6.6"/>
<circle cx="187.03" cy="448.66" r="6.6"/>
<circle cx="193" cy="448.66" r="6.6"/>
<circle cx="198.96" cy="448.66" r="6.6"/>
<circle cx="204.93" cy="448.66" r="6.6"/>
<circle cx="210.89" cy="448.66" r="6.6"/>
<circle cx="216.86" cy="448.66" r="6.6"/>
<circle cx="222.82" cy="448.66" r="6.6"/>
<circle cx="228.79" cy="448.66" r="6.6"/>
<circle cx="234.75" cy="448.66" r="6.6"/>
<circle cx="240.72" cy="448.66" r="6.6"/>
<circle cx="246.68" cy="448.65" r="6.6"/>
<circle cx="252.65" cy="448.65" r="6.6"/>
<circle cx="258.61" cy="448.65" r="6.6"/>
<circle cx="264.58" cy="448.65" r="6.6"/>
<circle cx="270.55" cy="448.65" r="6.6"/>
<circle cx="276.51" cy="448.65" r="6.6"/>
<circle cx="282.48" cy="448.65" r="6.6"/>
<circle cx="288.44" cy="448.65" r="6.6"/>
<circle cx="294.41" cy="448.65" r="6.6"/>
<circle cx="300.37" cy="448.65" r="6.6"/>
<circle cx="306.34" cy="448.65" r="6.6"/>
<circle cx="312.3" cy="448.64" r="6.6"/>
<circle cx="318.27" cy="448.64" r="6.6"/>
<circle cx="324.23" cy="448.64" r="6.6"/>
<circle cx="330.2" cy="448.64" r="6.6"/>
<circle cx="336.16" cy="448.64" r="6.6"/>
<circle cx="342.13" cy="448.64" r="6.6"/>
<circle cx="348.09" cy="448.09" r="6.6"/>
<circle cx="354.06" cy="447.05" r="6.6"/>
<circle cx="360.02" cy="446.01" r="6.6"/>
<circle cx="365.99" cy="444.97" r="6.6"/>
<circle cx="371.95" cy="443.93" r="6.6"/>
<circle cx="377.92" cy="442.89" r="6.6"/>
<circle cx="383.89" cy="441.84" r="6.6"/>
<circle cx="389.85" cy="440.8" r="6.6"/>
<circle cx="395.82" cy="439.76" r="6.6"/>
<circle cx="401.78" cy="439.38" r="6.6"/>
<circle cx="407.75" cy="438.99" r="6.6"/>
<circle cx="413.71" cy="438.61" r="6.6"/>
<circle cx="419.68" cy="438.23" r="6.6"/>
<circle cx="425.64" cy="437.84" r="6.6"/>
<circle cx="431.61" cy="437.46" r="6.6"/>
<circle cx="437.57" cy="437.37" r="6.6"/>
<circle cx="443.54" cy="437.28" r="6.6"/>
<circle cx="449.5" cy="437.19" r="6.6"/>
<circle cx="455.47" cy="437.1" r="6.6"/>
<circle cx="461.43" cy="435.78" r="6.6"/>
<circle cx="467.4" cy="434.45" r="6.6"/>
<circle cx="473.36" cy="433.6" r="6.6"/>
<circle cx="479.33" cy="432.75" r="6.6"/>
<circle cx="485.3" cy="431.89" r="6.6"/>
<circle cx="491.26" cy="431.04" r="6.6"/>
<circle cx="497.23" cy="430.19" r="6.6"/>
<circle cx="503.19" cy="429.84" r="6.6"/>
<circle cx="509.16" cy="429.06" r="6.6"/>
<circle cx="515.12" cy="428.28" r="6.6"/>
<circle cx="521.09" cy="427.5" r="6.6"/>
<circle cx="527.05" cy="426.72" r="6.6"/>
<circle cx="533.02" cy="425.94" r="6.6"/>
<circle cx="538.98" cy="425.59" r="6.6"/>
<circle cx="544.95" cy="424.88" r="6.6"/>
<circle cx="550.91" cy="424.17" r="6.6"/>
<circle cx="556.88" cy="423.16" r="6.6"/>
<circle cx="562.84" cy="422.16" r="6.6"/>
<circle cx="568.81" cy="421.16" r="6.6"/>
<circle cx="574.77" cy="419.21" r="6.6"/>
<circle cx="580.74" cy="417.44" r="6.6"/>
<circle cx="586.7" cy="415.66" r="6.6"/>
<circle cx="592.67" cy="415.04" r="6.6"/>
<circle cx="598.64" cy="414.42" r="6.6"/>
<circle cx="604.6" cy="413.8" r="6.6"/>
<circle cx="610.57" cy="413.48" r="6.6"/>
<circle cx="616.53" cy="413.15" r="6.6"/>
<circle cx="622.5" cy="412.83" r="6.6"/>
<circle cx="628.46" cy="412.36" r="6.6"/>
<circle cx="634.43" cy="411.88" r="6.6"/>
<circle cx="640.39" cy="411.41" r="6.6"/>
<circle cx="646.36" cy="409.99" r="6.6"/>
<circle cx="652.32" cy="408.58" r="6.6"/>
<circle cx="658.29" cy="408.31" r="6.6"/>
<circle cx="664.25" cy="408.1" r="6.6"/>
<circle cx="670.22" cy="407.9" r="6.6"/>
<circle cx="676.18" cy="407.69" r="6.6"/>
<circle cx="682.15" cy="407.36" r="6.6"/>
<circle cx="688.11" cy="407.03" r="6.6"/>
<circle cx="694.08" cy="406.7" r="6.6"/>
<circle cx="700.05" cy="406.32" r="6.6"/>
<circle cx="706.01" cy="405.94" r="6.6"/>
<circle cx="711.98" cy="405.56" r="6.6"/>
<circle cx="717.94" cy="405.15" r="6.6"/>
<circle cx="723.91" cy="404.74" r="6.6"/>
<circle cx="729.87" cy="404.32" r="6.6"/>
<circle cx="735.84" cy="403.79" r="6.6"/>
<circle cx="741.8" cy="403.26" r="6.6"/>
<circle cx="747.77" cy="402.73" r="6.6"/>
<circle cx="753.73" cy="402.2" r="6.6"/>
<circle cx="759.7" cy="401.49" r="6.6"/>
<circle cx="765.66" cy="400.78" r="6.6"/>
<circle cx="771.63" cy="399.77" r="6.6"/>
<circle cx="777.59" cy="398.77" r="6.6"/>
<circle cx="783.56" cy="397.77" r="6.6"/>
<circle cx="789.52" cy="396.94" r="6.6"/>
<circle cx="795.49" cy="396.11" r="6.6"/>
<circle cx="801.45" cy="395.29" r="6.6"/>
<circle cx="807.42" cy="390.86" r="6.6"/>
<circle cx="813.39" cy="391.56" r="6.6"/>
<circle cx="819.35" cy="391.74" r="6.6"/>
<circle cx="825.32" cy="391.73" r="6.6"/>
<circle cx="831.28" cy="391.72" r="6.6"/>
<circle cx="837.25" cy="391.7" r="6.6"/>
<circle cx="843.21" cy="391.69" r="6.6"/>
<circle cx="849.18" cy="391.68" r="6.6"/>
<circle cx="855.14" cy="391.67" r="6.6"/>
<circle cx="861.11" cy="391.65" r="6.6"/>
<circle cx="867.07" cy="391.64" r="6.6"/>
<circle cx="873.04" cy="391.63" r="6.6"/>
<circle cx="879" cy="391.61" r="6.6"/>
<circle cx="884.97" cy="391.6" r="6.6"/>
<circle cx="890.93" cy="391.59" r="6.6"/>
<circle cx="896.9" cy="391.58" r="6.6"/>
<circle cx="902.86" cy="391.56" r="6.6"/>
</g></g>
<g>
<polyline fill="none" stroke="#FF6699" stroke-width="1.8" stroke-linejoin="round" points="109.48,455.8 115.45,456.3 121.41,456.6 127.38,456.9 133.34,457.3 139.31,457.8 145.27,458.1 151.24,455.8 157.2,457.3 163.17,458.1 169.14,457 175.1,455.8 181.07,455.8 187.03,461.8 193,462.2 198.96,461.8 204.93,464.5 210.89,463.1 216.86,464.8 222.82,466 228.79,468.5 234.75,472.2 240.72,475.9 246.68,479.8 252.65,474.9 258.61,473.4 264.58,471.8 270.55,470.6 276.51,469.2 282.48,466.4 288.44,463.1 294.41,460.9 300.37,459.9 306.34,453.9 312.3,454.3 318.27,446.6 324.23,445 330.2,443.5 336.16,442 342.13,504.6 348.09,505 354.06,505.2 360.02,505.2 365.99,505 371.95,500.9 377.92,498.7 383.89,502.8 389.85,502.6 395.82,501 401.78,499.5 407.75,495 413.71,491 419.68,489 425.64,490.5 431.61,486 437.57,482 443.54,478.7 449.5,475.8 455.47,474.3 461.43,472.8 467.4,470.5 473.36,465.5 479.33,459.8 485.3,455 491.26,448.7 497.23,443.8 503.19,440.5 509.16,439.2 515.12,446.7 521.09,445.8 527.05,449.3 533.02,451.2 538.98,453.5 544.95,455.7 550.91,456.5 556.88,453.6 562.84,474.4 568.81,474.4 574.77,474.4 580.74,474.4 586.7,476.5 592.67,476.8 598.64,476.8 604.6,476.8 610.57,476.5 616.53,471.2 622.5,469.9 628.46,468.1 634.43,465.9 640.39,463.9 646.36,462.2 652.32,460.4 658.29,458.4 664.25,456.2 670.22,453.2 676.18,449.5 682.15,445.8 688.11,442.8 694.08,445.5 700.05,459.9 706.01,470 711.98,468.9 717.94,466.6 723.91,464.4 729.87,462.2 735.84,458.4 741.8,454.7 747.77,451.7 753.73,449.4 759.7,448.1 765.66,446.3 771.63,445.1 777.59,444.5 783.56,444.1 789.52,443.6 795.49,443 801.45,441.1 807.42,438.9 813.39,438.4 819.35,438.1 825.32,437.7 831.28,437.1 837.25,436.8 843.21,436.3 849.18,435.9 855.14,435.1 861.11,434.7 867.07,434.4 873.04,434.1 879,433.2 884.97,432.9 890.93,438.9 896.9,440.3 902.86,441.5"/>
<g fill="#FF6699">
<circle cx="109.48" cy="455.8" r="6.6"/>
<circle cx="115.45" cy="456.3" r="6.6"/>
<circle cx="121.41" cy="456.6" r="6.6"/>
<circle cx="127.38" cy="456.9" r="6.6"/>
<circle cx="133.34" cy="457.3" r="6.6"/>
<circle cx="139.31" cy="457.8" r="6.6"/>
<circle cx="145.27" cy="458.1" r="6.6"/>
<circle cx="151.24" cy="455.8" r="6.6"/>
<circle cx="157.2" cy="457.3" r="6.6"/>
<circle cx="163.17" cy="458.1" r="6.6"/>
<circle cx="169.14" cy="457" r="6.6"/>
<circle cx="175.1" cy="455.8" r="6.6"/>
<circle cx="181.07" cy="455.8" r="6.6"/>
<circle cx="187.03" cy="461.8" r="6.6"/>
<circle cx="193" cy="462.2" r="6.6"/>
<circle cx="198.96" cy="461.8" r="6.6"/>
<circle cx="204.93" cy="464.5" r="6.6"/>
<circle cx="210.89" cy="463.1" r="6.6"/>
<circle cx="216.86" cy="464.8" r="6.6"/>
<circle cx="222.82" cy="466" r="6.6"/>
<circle cx="228.79" cy="468.5" r="6.6"/>
<circle cx="234.75" cy="472.2" r="6.6"/>
<circle cx="240.72" cy="475.9" r="6.6"/>
<circle cx="246.68" cy="479.8" r="6.6"/>
<circle cx="252.65" cy="474.9" r="6.6"/>
<circle cx="258.61" cy="473.4" r="6.6"/>
<circle cx="264.58" cy="471.8" r="6.6"/>
<circle cx="270.55" cy="470.6" r="6.6"/>
<circle cx="276.51" cy="469.2" r="6.6"/>
<circle cx="282.48" cy="466.4" r="6.6"/>
<circle cx="288.44" cy="463.1" r="6.6"/>
<circle cx="294.41" cy="460.9" r="6.6"/>
<circle cx="300.37" cy="459.9" r="6.6"/>
<circle cx="306.34" cy="453.9" r="6.6"/>
<circle cx="312.3" cy="454.3" r="6.6"/>
<circle cx="318.27" cy="446.6" r="6.6"/>
<circle cx="324.23" cy="445" r="6.6"/>
<circle cx="330.2" cy="443.5" r="6.6"/>
<circle cx="336.16" cy="442" r="6.6"/>
<circle cx="342.13" cy="504.6" r="6.6"/>
<circle cx="348.09" cy="505" r="6.6"/>
<circle cx="354.06" cy="505.2" r="6.6"/>
<circle cx="360.02" cy="505.2" r="6.6"/>
<circle cx="365.99" cy="505" r="6.6"/>
<circle cx="371.95" cy="500.9" r="6.6"/>
<circle cx="377.92" cy="498.7" r="6.6"/>
<circle cx="383.89" cy="502.8" r="6.6"/>
<circle cx="389.85" cy="502.6" r="6.6"/>
<circle cx="395.82" cy="501" r="6.6"/>
<circle cx="401.78" cy="499.5" r="6.6"/>
<circle cx="407.75" cy="495" r="6.6"/>
<circle cx="413.71" cy="491" r="6.6"/>
<circle cx="419.68" cy="489" r="6.6"/>
<circle cx="425.64" cy="490.5" r="6.6"/>
<circle cx="431.61" cy="486" r="6.6"/>
<circle cx="437.57" cy="482" r="6.6"/>
<circle cx="443.54" cy="478.7" r="6.6"/>
<circle cx="449.5" cy="475.8" r="6.6"/>
<circle cx="455.47" cy="474.3" r="6.6"/>
<circle cx="461.43" cy="472.8" r="6.6"/>
<circle cx="467.4" cy="470.5" r="6.6"/>
<circle cx="473.36" cy="465.5" r="6.6"/>
<circle cx="479.33" cy="459.8" r="6.6"/>
<circle cx="485.3" cy="455" r="6.6"/>
<circle cx="491.26" cy="448.7" r="6.6"/>
<circle cx="497.23" cy="443.8" r="6.6"/>
<circle cx="503.19" cy="440.5" r="6.6"/>
<circle cx="509.16" cy="439.2" r="6.6"/>
<circle cx="515.12" cy="446.7" r="6.6"/>
<circle cx="521.09" cy="445.8" r="6.6"/>
<circle cx="527.05" cy="449.3" r="6.6"/>
<circle cx="533.02" cy="451.2" r="6.6"/>
<circle cx="538.98" cy="453.5" r="6.6"/>
<circle cx="544.95" cy="455.7" r="6.6"/>
<circle cx="550.91" cy="456.5" r="6.6"/>
<circle cx="556.88" cy="453.6" r="6.6"/>
<circle cx="562.84" cy="474.4" r="6.6"/>
<circle cx="568.81" cy="474.4" r="6.6"/>
<circle cx="574.77" cy="474.4" r="6.6"/>
<circle cx="580.74" cy="474.4" r="6.6"/>
<circle cx="586.7" cy="476.5" r="6.6"/>
<circle cx="592.67" cy="476.8" r="6.6"/>
<circle cx="598.64" cy="476.8" r="6.6"/>
<circle cx="604.6" cy="476.8" r="6.6"/>
<circle cx="610.57" cy="476.5" r="6.6"/>
<circle cx="616.53" cy="471.2" r="6.6"/>
<circle cx="622.5" cy="469.9" r="6.6"/>
<circle cx="628.46" cy="468.1" r="6.6"/>
<circle cx="634.43" cy="465.9" r="6.6"/>
<circle cx="640.39" cy="463.9" r="6.6"/>
<circle cx="646.36" cy="462.2" r="6.6"/>
<circle cx="652.32" cy="460.4" r="6.6"/>
<circle cx="658.29" cy="458.4" r="6.6"/>
<circle cx="664.25" cy="456.2" r="6.6"/>
<circle cx="670.22" cy="453.2" r="6.6"/>
<circle cx="676.18" cy="449.5" r="6.6"/>
<circle cx="682.15" cy="445.8" r="6.6"/>
<circle cx="688.11" cy="442.8" r="6.6"/>
<circle cx="694.08" cy="445.5" r="6.6"/>
<circle cx="700.05" cy="459.9" r="6.6"/>
<circle cx="706.01" cy="470" r="6.6"/>
<circle cx="711.98" cy="468.9" r="6.6"/>
<circle cx="717.94" cy="466.6" r="6.6"/>
<circle cx="723.91" cy="464.4" r="6.6"/>
<circle cx="729.87" cy="462.2" r="6.6"/>
<circle cx="735.84" cy="458.4" r="6.6"/>
<circle cx="741.8" cy="454.7" r="6.6"/>
<circle cx="747.77" cy="451.7" r="6.6"/>
<circle cx="753.73" cy="449.4" r="6.6"/>
<circle cx="759.7" cy="448.1" r="6.6"/>
<circle cx="765.66" cy="446.3" r="6.6"/>
<circle cx="771.63" cy="445.1" r="6.6"/>
<circle cx="777.59" cy="444.5" r="6.6"/>
<circle cx="783.56" cy="444.1" r="6.6"/>
<circle cx="789.52" cy="443.6" r="6.6"/>
<circle cx="795.49" cy="443" r="6.6"/>
<circle cx="801.45" cy="441.1" r="6.6"/>
<circle cx="807.42" cy="438.9" r="6.6"/>
<circle cx="813.39" cy="438.4" r="6.6"/>
<circle cx="819.35" cy="438.1" r="6.6"/>
<circle cx="825.32" cy="437.7" r="6.6"/>
<circle cx="831.28" cy="437.1" r="6.6"/>
<circle cx="837.25" cy="436.8" r="6.6"/>
<circle cx="843.21" cy="436.3" r="6.6"/>
<circle cx="849.18" cy="435.9" r="6.6"/>
<circle cx="855.14" cy="435.1" r="6.6"/>
<circle cx="861.11" cy="434.7" r="6.6"/>
<circle cx="867.07" cy="434.4" r="6.6"/>
<circle cx="873.04" cy="434.1" r="6.6"/>
<circle cx="879" cy="433.2" r="6.6"/>
<circle cx="884.97" cy="432.9" r="6.6"/>
<circle cx="890.93" cy="438.9" r="6.6"/>
<circle cx="896.9" cy="440.3" r="6.6"/>
<circle cx="902.86" cy="441.5" r="6.6"/>
</g></g>
<g>
<polyline fill="none" stroke="#0066FF" stroke-width="1.8" stroke-linejoin="round" points="109.48,513.1 115.45,512.65 121.41,512.19 127.38,511.74 133.34,511.28 139.31,510.83 145.27,510.37 151.24,509.92 157.2,509.46 163.17,509.01 169.14,508.55 175.1,508.1 181.07,507.57 187.03,507.03 193,506.5 198.96,505.97 204.93,505.43 210.89,504.9 216.86,504.37 222.82,503.83 228.79,503.3 234.75,502.77 240.72,502.23 246.68,501.7 252.65,501.06 258.61,500.42 264.58,499.77 270.55,499.13 276.51,498.49 282.48,497.85 288.44,497.21 294.41,496.57 300.37,495.93 306.34,495.28 312.3,494.64 318.27,494 324.23,493.25 330.2,492.5 336.16,491.75 342.13,491 348.09,490.25 354.06,489.5 360.02,488.75 365.99,488 371.95,487.25 377.92,486.5 383.89,485.75 389.85,485 395.82,483.9 401.78,483.15 407.75,482.4 413.71,481.65 419.68,480.9 425.64,480.35 431.61,479.8 437.57,479.25 443.54,478.7 449.5,478.57 455.47,478.45 461.43,478.32 467.4,478.2 473.36,478.37 479.33,478.53 485.3,478.7 491.26,478.93 497.23,479.17 503.19,479.4 509.16,479.27 515.12,479.13 521.09,479 527.05,478.7 533.02,478.4 538.98,478.1 544.95,477.3 550.91,476.47 556.88,475.63 562.84,474.8 568.81,477.6 574.77,477.35 580.74,477.1 586.7,476.25 592.67,475.4 598.64,474.8 604.6,475.4 610.57,476.8 616.53,478.9 622.5,481.2 628.46,480.7 634.43,479.4 640.39,478.7 646.36,479.8 652.32,480.6 658.29,479.9 664.25,479.3 670.22,482.9 676.18,484.4 682.15,485.1 688.11,486.6 694.08,488.1 700.05,489.6 706.01,490.3 711.98,491 717.94,491.5 723.91,492 729.87,492.3 735.84,492.6 741.8,493.3 747.77,493.8 753.73,493.1 759.7,493.1 765.66,492.3 771.63,491.8 777.59,493.1 783.56,493.8 789.52,494.9 795.49,495.8 801.45,496.8 807.42,495.3 813.39,496.1 819.35,496.8 825.32,496.1 831.28,496.8 837.25,495.3 843.21,494.6 849.18,493.8 855.14,492.8 861.11,491.6 867.07,490.8 873.04,489.8 879,488.6 884.97,487.9 890.93,487.1 896.9,486.6 902.86,487.4"/>
<g fill="#0066FF">
<circle cx="109.48" cy="513.1" r="6.6"/>
<circle cx="115.45" cy="512.65" r="6.6"/>
<circle cx="121.41" cy="512.19" r="6.6"/>
<circle cx="127.38" cy="511.74" r="6.6"/>
<circle cx="133.34" cy="511.28" r="6.6"/>
<circle cx="139.31" cy="510.83" r="6.6"/>
<circle cx="145.27" cy="510.37" r="6.6"/>
<circle cx="151.24" cy="509.92" r="6.6"/>
<circle cx="157.2" cy="509.46" r="6.6"/>
<circle cx="163.17" cy="509.01" r="6.6"/>
<circle cx="169.14" cy="508.55" r="6.6"/>
<circle cx="175.1" cy="508.1" r="6.6"/>
<circle cx="181.07" cy="507.57" r="6.6"/>
<circle cx="187.03" cy="507.03" r="6.6"/>
<circle cx="193" cy="506.5" r="6.6"/>
<circle cx="198.96" cy="505.97" r="6.6"/>
<circle cx="204.93" cy="505.43" r="6.6"/>
<circle cx="210.89" cy="504.9" r="6.6"/>
<circle cx="216.86" cy="504.37" r="6.6"/>
<circle cx="222.82" cy="503.83" r="6.6"/>
<circle cx="228.79" cy="503.3" r="6.6"/>
<circle cx="234.75" cy="502.77" r="6.6"/>
<circle cx="240.72" cy="502.23" r="6.6"/>
<circle cx="246.68" cy="501.7" r="6.6"/>
<circle cx="252.65" cy="501.06" r="6.6"/>
<circle cx="258.61" cy="500.42" r="6.6"/>
<circle cx="264.58" cy="499.77" r="6.6"/>
<circle cx="270.55" cy="499.13" r="6.6"/>
<circle cx="276.51" cy="498.49" r="6.6"/>
<circle cx="282.48" cy="497.85" r="6.6"/>
<circle cx="288.44" cy="497.21" r="6.6"/>
<circle cx="294.41" cy="496.57" r="6.6"/>
<circle cx="300.37" cy="495.93" r="6.6"/>
<circle cx="306.34" cy="495.28" r="6.6"/>
<circle cx="312.3" cy="494.64" r="6.6"/>
<circle cx="318.27" cy="494" r="6.6"/>
<circle cx="324.23" cy="493.25" r="6.6"/>
<circle cx="330.2" cy="492.5" r="6.6"/>
<circle cx="336.16" cy="491.75" r="6.6"/>
<circle cx="342.13" cy="491" r="6.6"/>
<circle cx="348.09" cy="490.25" r="6.6"/>
<circle cx="354.06" cy="489.5" r="6.6"/>
<circle cx="360.02" cy="488.75" r="6.6"/>
<circle cx="365.99" cy="488" r="6.6"/>
<circle cx="371.95" cy="487.25" r="6.6"/>
<circle cx="377.92" cy="486.5" r="6.6"/>
<circle cx="383.89" cy="485.75" r="6.6"/>
<circle cx="389.85" cy="485" r="6.6"/>
<circle cx="395.82" cy="483.9" r="6.6"/>
<circle cx="401.78" cy="483.15" r="6.6"/>
<circle cx="407.75" cy="482.4" r="6.6"/>
<circle cx="413.71" cy="481.65" r="6.6"/>
<circle cx="419.68" cy="480.9" r="6.6"/>
<circle cx="425.64" cy="480.35" r="6.6"/>
<circle cx="431.61" cy="479.8" r="6.6"/>
<circle cx="437.57" cy="479.25" r="6.6"/>
<circle cx="443.54" cy="478.7" r="6.6"/>
<circle cx="449.5" cy="478.57" r="6.6"/>
<circle cx="455.47" cy="478.45" r="6.6"/>
<circle cx="461.43" cy="478.32" r="6.6"/>
<circle cx="467.4" cy="478.2" r="6.6"/>
<circle cx="473.36" cy="478.37" r="6.6"/>
<circle cx="479.33" cy="478.53" r="6.6"/>
<circle cx="485.3" cy="478.7" r="6.6"/>
<circle cx="491.26" cy="478.93" r="6.6"/>
<circle cx="497.23" cy="479.17" r="6.6"/>
<circle cx="503.19" cy="479.4" r="6.6"/>
<circle cx="509.16" cy="479.27" r="6.6"/>
<circle cx="515.12" cy="479.13" r="6.6"/>
<circle cx="521.09" cy="479" r="6.6"/>
<circle cx="527.05" cy="478.7" r="6.6"/>
<circle cx="533.02" cy="478.4" r="6.6"/>
<circle cx="538.98" cy="478.1" r="6.6"/>
<circle cx="544.95" cy="477.3" r="6.6"/>
<circle cx="550.91" cy="476.47" r="6.6"/>
<circle cx="556.88" cy="475.63" r="6.6"/>
<circle cx="562.84" cy="474.8" r="6.6"/>
<circle cx="568.81" cy="477.6" r="6.6"/>
<circle cx="574.77" cy="477.35" r="6.6"/>
<circle cx="580.74" cy="477.1" r="6.6"/>
<circle cx="586.7" cy="476.25" r="6.6"/>
<circle cx="592.67" cy="475.4" r="6.6"/>
<circle cx="598.64" cy="474.8" r="6.6"/>
<circle cx="604.6" cy="475.4" r="6.6"/>
<circle cx="610.57" cy="476.8" r="6.6"/>
<circle cx="616.53" cy="478.9" r="6.6"/>
<circle cx="622.5" cy="481.2" r="6.6"/>
<circle cx="628.46" cy="480.7" r="6.6"/>
<circle cx="634.43" cy="479.4" r="6.6"/>
<circle cx="640.39" cy="478.7" r="6.6"/>
<circle cx="646.36" cy="479.8" r="6.6"/>
<circle cx="652.32" cy="480.6" r="6.6"/>
<circle cx="658.29" cy="479.9" r="6.6"/>
<circle cx="664.25" cy="479.3" r="6.6"/>
<circle cx="670.22" cy="482.9" r="6.6"/>
<circle cx="676.18" cy="484.4" r="6.6"/>
<circle cx="682.15" cy="485.1" r="6.6"/>
<circle cx="688.11" cy="486.6" r="6.6"/>
<circle cx="694.08" cy="488.1" r="6.6"/>
<circle cx="700.05" cy="489.6" r="6.6"/>
<circle cx="706.01" cy="490.3" r="6.6"/>
<circle cx="711.98" cy="491" r="6.6"/>
<circle cx="717.94" cy="491.5" r="6.6"/>
<circle cx="723.91" cy="492" r="6.6"/>
<circle cx="729.87" cy="492.3" r="6.6"/>
<circle cx="735.84" cy="492.6" r="6.6"/>
<circle cx="741.8" cy="493.3" r="6.6"/>
<circle cx="747.77" cy="493.8" r="6.6"/>
<circle cx="753.73" cy="493.1" r="6.6"/>
<circle cx="759.7" cy="493.1" r="6.6"/>
<circle cx="765.66" cy="492.3" r="6.6"/>
<circle cx="771.63" cy="491.8" r="6.6"/>
<circle cx="777.59" cy="493.1" r="6.6"/>
<circle cx="783.56" cy="493.8" r="6.6"/>
<circle cx="789.52" cy="494.9" r="6.6"/>
<circle cx="795.49" cy="495.8" r="6.6"/>
<circle cx="801.45" cy="496.8" r="6.6"/>
<circle cx="807.42" cy="495.3" r="6.6"/>
<circle cx="813.39" cy="496.1" r="6.6"/>
<circle cx="819.35" cy="496.8" r="6.6"/>
<circle cx="825.32" cy="496.1" r="6.6"/>
<circle cx="831.28" cy="496.8" r="6.6"/>
<circle cx="837.25" cy="495.3" r="6.6"/>
<circle cx="843.21" cy="494.6" r="6.6"/>
<circle cx="849.18" cy="493.8" r="6.6"/>
<circle cx="855.14" cy="492.8" r="6.6"/>
<circle cx="861.11" cy="491.6" r="6.6"/>
<circle cx="867.07" cy="490.8" r="6.6"/>
<circle cx="873.04" cy="489.8" r="6.6"/>
<circle cx="879" cy="488.6" r="6.6"/>
<circle cx="884.97" cy="487.9" r="6.6"/>
<circle cx="890.93" cy="487.1" r="6.6"/>
<circle cx="896.9" cy="486.6" r="6.6"/>
<circle cx="902.86" cy="487.4" r="6.6"/>
</g></g>
<g>
<polyline fill="none" stroke="#00B050" stroke-width="1.8" stroke-linejoin="round" points="395.82,486.1 401.78,485.3 407.75,484.6 413.71,483.4 419.68,482.8 425.64,485.5 431.61,489 437.57,489 443.54,488.3 449.5,487.7 455.47,487.7 461.43,487.7 467.4,487.4 473.36,487.4 479.33,487.4 485.3,487.4 491.26,487.4 497.23,487 503.19,489.8 509.16,493.5 515.12,493.2 521.09,491.3 527.05,489.8 533.02,488.3 538.98,486.7 544.95,485.3 550.91,483.8 556.88,483 562.84,484.6 568.81,483.8 574.77,481.8 580.74,480.2 586.7,479.5 592.67,480.9 598.64,484.1 604.6,482.4 610.57,483 616.53,486.3 622.5,487.3 628.46,485.9 634.43,483.9 640.39,482.3 646.36,480.7 652.32,478.8 658.29,477.8 664.25,476.8 670.22,477.1 676.18,477.4 682.15,477.8 688.11,477.4 694.08,478.5 700.05,479.3 706.01,480.8 711.98,480 717.94,480.3 723.91,479.3 729.87,478.5 735.84,480.8 741.8,481.5 747.77,481.3 753.73,481.2 759.7,481.2 765.66,481.2 771.63,481.2 777.59,481.2 783.56,480.9 789.52,480.5 795.49,480 801.45,479.7 807.42,479.4 813.39,479.7 819.35,479.4 825.32,479.7 831.28,481.6 837.25,483.8 843.21,484.3 849.18,484.1 855.14,483.8 861.11,483.5 867.07,483.4 873.04,483.1 879,481.2 884.97,479.2 890.93,477.4 896.9,475.8 902.86,474.5"/>
<g fill="#00B050">
<circle cx="395.82" cy="486.1" r="6.6"/>
<circle cx="401.78" cy="485.3" r="6.6"/>
<circle cx="407.75" cy="484.6" r="6.6"/>
<circle cx="413.71" cy="483.4" r="6.6"/>
<circle cx="419.68" cy="482.8" r="6.6"/>
<circle cx="425.64" cy="485.5" r="6.6"/>
<circle cx="431.61" cy="489" r="6.6"/>
<circle cx="437.57" cy="489" r="6.6"/>
<circle cx="443.54" cy="488.3" r="6.6"/>
<circle cx="449.5" cy="487.7" r="6.6"/>
<circle cx="455.47" cy="487.7" r="6.6"/>
<circle cx="461.43" cy="487.7" r="6.6"/>
<circle cx="467.4" cy="487.4" r="6.6"/>
<circle cx="473.36" cy="487.4" r="6.6"/>
<circle cx="479.33" cy="487.4" r="6.6"/>
<circle cx="485.3" cy="487.4" r="6.6"/>
<circle cx="491.26" cy="487.4" r="6.6"/>
<circle cx="497.23" cy="487" r="6.6"/>
<circle cx="503.19" cy="489.8" r="6.6"/>
<circle cx="509.16" cy="493.5" r="6.6"/>
<circle cx="515.12" cy="493.2" r="6.6"/>
<circle cx="521.09" cy="491.3" r="6.6"/>
<circle cx="527.05" cy="489.8" r="6.6"/>
<circle cx="533.02" cy="488.3" r="6.6"/>
<circle cx="538.98" cy="486.7" r="6.6"/>
<circle cx="544.95" cy="485.3" r="6.6"/>
<circle cx="550.91" cy="483.8" r="6.6"/>
<circle cx="556.88" cy="483" r="6.6"/>
<circle cx="562.84" cy="484.6" r="6.6"/>
<circle cx="568.81" cy="483.8" r="6.6"/>
<circle cx="574.77" cy="481.8" r="6.6"/>
<circle cx="580.74" cy="480.2" r="6.6"/>
<circle cx="586.7" cy="479.5" r="6.6"/>
<circle cx="592.67" cy="480.9" r="6.6"/>
<circle cx="598.64" cy="484.1" r="6.6"/>
<circle cx="604.6" cy="482.4" r="6.6"/>
<circle cx="610.57" cy="483" r="6.6"/>
<circle cx="616.53" cy="486.3" r="6.6"/>
<circle cx="622.5" cy="487.3" r="6.6"/>
<circle cx="628.46" cy="485.9" r="6.6"/>
<circle cx="634.43" cy="483.9" r="6.6"/>
<circle cx="640.39" cy="482.3" r="6.6"/>
<circle cx="646.36" cy="480.7" r="6.6"/>
<circle cx="652.32" cy="478.8" r="6.6"/>
<circle cx="658.29" cy="477.8" r="6.6"/>
<circle cx="664.25" cy="476.8" r="6.6"/>
<circle cx="670.22" cy="477.1" r="6.6"/>
<circle cx="676.18" cy="477.4" r="6.6"/>
<circle cx="682.15" cy="477.8" r="6.6"/>
<circle cx="688.11" cy="477.4" r="6.6"/>
<circle cx="694.08" cy="478.5" r="6.6"/>
<circle cx="700.05" cy="479.3" r="6.6"/>
<circle cx="706.01" cy="480.8" r="6.6"/>
<circle cx="711.98" cy="480" r="6.6"/>
<circle cx="717.94" cy="480.3" r="6.6"/>
<circle cx="723.91" cy="479.3" r="6.6"/>
<circle cx="729.87" cy="478.5" r="6.6"/>
<circle cx="735.84" cy="480.8" r="6.6"/>
<circle cx="741.8" cy="481.5" r="6.6"/>
<circle cx="747.77" cy="481.3" r="6.6"/>
<circle cx="753.73" cy="481.2" r="6.6"/>
<circle cx="759.7" cy="481.2" r="6.6"/>
<circle cx="765.66" cy="481.2" r="6.6"/>
<circle cx="771.63" cy="481.2" r="6.6"/>
<circle cx="777.59" cy="481.2" r="6.6"/>
<circle cx="783.56" cy="480.9" r="6.6"/>
<circle cx="789.52" cy="480.5" r="6.6"/>
<circle cx="795.49" cy="480" r="6.6"/>
<circle cx="801.45" cy="479.7" r="6.6"/>
<circle cx="807.42" cy="479.4" r="6.6"/>
<circle cx="813.39" cy="479.7" r="6.6"/>
<circle cx="819.35" cy="479.4" r="6.6"/>
<circle cx="825.32" cy="479.7" r="6.6"/>
<circle cx="831.28" cy="481.6" r="6.6"/>
<circle cx="837.25" cy="483.8" r="6.6"/>
<circle cx="843.21" cy="484.3" r="6.6"/>
<circle cx="849.18" cy="484.1" r="6.6"/>
<circle cx="855.14" cy="483.8" r="6.6"/>
<circle cx="861.11" cy="483.5" r="6.6"/>
<circle cx="867.07" cy="483.4" r="6.6"/>
<circle cx="873.04" cy="483.1" r="6.6"/>
<circle cx="879" cy="481.2" r="6.6"/>
<circle cx="884.97" cy="479.2" r="6.6"/>
<circle cx="890.93" cy="477.4" r="6.6"/>
<circle cx="896.9" cy="475.8" r="6.6"/>
<circle cx="902.86" cy="474.5" r="6.6"/>
</g></g>
<g>
<polyline fill="none" stroke="#C00000" stroke-width="1.8" stroke-linejoin="round" points="109.48,528.9 115.45,528.9 121.41,528.9 127.38,528.9 133.34,528.9 139.31,528.9 145.27,528.9 151.24,528.9 157.2,528.9 163.17,528.9 169.14,528.9 175.1,528.9 181.07,528.9 187.03,528.9 193,528.9 198.96,528.9 204.93,528.9 210.89,528.9 216.86,528.9 222.82,528.9 228.79,528.9 234.75,528.9 240.72,528.9 246.68,528.9 252.65,528.9 258.61,528.9 264.58,528.9 270.55,528.9 276.51,528.9 282.48,528.9 288.44,528.9 294.41,528.9 300.37,528.9 306.34,528.9 312.3,528.9 318.27,528.9 324.23,528.9 330.2,528.9 336.16,528.9 342.13,528.9 348.09,528.9 354.06,528.9 360.02,528.89 365.99,527.65 371.95,526.82 377.92,524.71 383.89,524.71 389.85,524.71 395.82,524.71 401.78,524.71 407.75,524.71 413.71,524.71 419.68,524.71 425.64,506.99 431.61,506.99 437.57,506.99 443.54,506.99 449.5,506.99 455.47,506.99 461.43,506.99 467.4,506.99 473.36,506.99 479.33,506.99 485.3,506.99 491.26,506.99 497.23,506.99 503.19,506.99 509.16,506.99 515.12,506.99 521.09,506.99 527.05,506.99 533.02,506.99 538.98,506.99 544.95,506.99 550.91,506.99 556.88,506.99 562.84,506.99 568.81,506.99 574.77,506.99 580.74,506.99 586.7,506.99 592.67,506.99 598.64,506.99 604.6,506.99 610.57,506.99 616.53,506.99 622.5,506.99 628.46,506.99 634.43,506.99 640.39,506.99 646.36,506.99 652.32,506.99 658.29,506.99 664.25,506.99 670.22,506.99 676.18,506.99 682.15,506.99 688.11,506.99 694.08,506.99 700.05,503.8 706.01,499.8 711.98,496.9 717.94,493 723.91,490.3 729.87,487 735.84,485.5 741.8,483.5 747.77,483 753.73,482.8 759.7,482.8 765.66,482.8 771.63,481.8 777.59,479.8 783.56,478.3 789.52,476.1 795.49,473.9 801.45,471.6 807.42,469.4 813.39,467.9 819.35,467.9 825.32,466.4 831.28,461.2 837.25,458.2 843.21,456.4 849.18,455.5 855.14,455.5 861.11,455.5 867.07,455.5 873.04,455.5 879,453 884.97,450.8 890.93,449.3 896.9,448.1 902.86,445.6"/>
<g fill="#C00000">
<circle cx="109.48" cy="528.9" r="6.6"/>
<circle cx="115.45" cy="528.9" r="6.6"/>
<circle cx="121.41" cy="528.9" r="6.6"/>
<circle cx="127.38" cy="528.9" r="6.6"/>
<circle cx="133.34" cy="528.9" r="6.6"/>
<circle cx="139.31" cy="528.9" r="6.6"/>
<circle cx="145.27" cy="528.9" r="6.6"/>
<circle cx="151.24" cy="528.9" r="6.6"/>
<circle cx="157.2" cy="528.9" r="6.6"/>
<circle cx="163.17" cy="528.9" r="6.6"/>
<circle cx="169.14" cy="528.9" r="6.6"/>
<circle cx="175.1" cy="528.9" r="6.6"/>
<circle cx="181.07" cy="528.9" r="6.6"/>
<circle cx="187.03" cy="528.9" r="6.6"/>
<circle cx="193" cy="528.9" r="6.6"/>
<circle cx="198.96" cy="528.9" r="6.6"/>
<circle cx="204.93" cy="528.9" r="6.6"/>
<circle cx="210.89" cy="528.9" r="6.6"/>
<circle cx="216.86" cy="528.9" r="6.6"/>
<circle cx="222.82" cy="528.9" r="6.6"/>
<circle cx="228.79" cy="528.9" r="6.6"/>
<circle cx="234.75" cy="528.9" r="6.6"/>
<circle cx="240.72" cy="528.9" r="6.6"/>
<circle cx="246.68" cy="528.9" r="6.6"/>
<circle cx="252.65" cy="528.9" r="6.6"/>
<circle cx="258.61" cy="528.9" r="6.6"/>
<circle cx="264.58" cy="528.9" r="6.6"/>
<circle cx="270.55" cy="528.9" r="6.6"/>
<circle cx="276.51" cy="528.9" r="6.6"/>
<circle cx="282.48" cy="528.9" r="6.6"/>
<circle cx="288.44" cy="528.9" r="6.6"/>
<circle cx="294.41" cy="528.9" r="6.6"/>
<circle cx="300.37" cy="528.9" r="6.6"/>
<circle cx="306.34" cy="528.9" r="6.6"/>
<circle cx="312.3" cy="528.9" r="6.6"/>
<circle cx="318.27" cy="528.9" r="6.6"/>
<circle cx="324.23" cy="528.9" r="6.6"/>
<circle cx="330.2" cy="528.9" r="6.6"/>
<circle cx="336.16" cy="528.9" r="6.6"/>
<circle cx="342.13" cy="528.9" r="6.6"/>
<circle cx="348.09" cy="528.9" r="6.6"/>
<circle cx="354.06" cy="528.9" r="6.6"/>
<circle cx="360.02" cy="528.89" r="6.6"/>
<circle cx="365.99" cy="527.65" r="6.6"/>
<circle cx="371.95" cy="526.82" r="6.6"/>
<circle cx="377.92" cy="524.71" r="6.6"/>
<circle cx="383.89" cy="524.71" r="6.6"/>
<circle cx="389.85" cy="524.71" r="6.6"/>
<circle cx="395.82" cy="524.71" r="6.6"/>
<circle cx="401.78" cy="524.71" r="6.6"/>
<circle cx="407.75" cy="524.71" r="6.6"/>
<circle cx="413.71" cy="524.71" r="6.6"/>
<circle cx="419.68" cy="524.71" r="6.6"/>
<circle cx="425.64" cy="506.99" r="6.6"/>
<circle cx="431.61" cy="506.99" r="6.6"/>
<circle cx="437.57" cy="506.99" r="6.6"/>
<circle cx="443.54" cy="506.99" r="6.6"/>
<circle cx="449.5" cy="506.99" r="6.6"/>
<circle cx="455.47" cy="506.99" r="6.6"/>
<circle cx="461.43" cy="506.99" r="6.6"/>
<circle cx="467.4" cy="506.99" r="6.6"/>
<circle cx="473.36" cy="506.99" r="6.6"/>
<circle cx="479.33" cy="506.99" r="6.6"/>
<circle cx="485.3" cy="506.99" r="6.6"/>
<circle cx="491.26" cy="506.99" r="6.6"/>
<circle cx="497.23" cy="506.99" r="6.6"/>
<circle cx="503.19" cy="506.99" r="6.6"/>
<circle cx="509.16" cy="506.99" r="6.6"/>
<circle cx="515.12" cy="506.99" r="6.6"/>
<circle cx="521.09" cy="506.99" r="6.6"/>
<circle cx="527.05" cy="506.99" r="6.6"/>
<circle cx="533.02" cy="506.99" r="6.6"/>
<circle cx="538.98" cy="506.99" r="6.6"/>
<circle cx="544.95" cy="506.99" r="6.6"/>
<circle cx="550.91" cy="506.99" r="6.6"/>
<circle cx="556.88" cy="506.99" r="6.6"/>
<circle cx="562.84" cy="506.99" r="6.6"/>
<circle cx="568.81" cy="506.99" r="6.6"/>
<circle cx="574.77" cy="506.99" r="6.6"/>
<circle cx="580.74" cy="506.99" r="6.6"/>
<circle cx="586.7" cy="506.99" r="6.6"/>
<circle cx="592.67" cy="506.99" r="6.6"/>
<circle cx="598.64" cy="506.99" r="6.6"/>
<circle cx="604.6" cy="506.99" r="6.6"/>
<circle cx="610.57" cy="506.99" r="6.6"/>
<circle cx="616.53" cy="506.99" r="6.6"/>
<circle cx="622.5" cy="506.99" r="6.6"/>
<circle cx="628.46" cy="506.99" r="6.6"/>
<circle cx="634.43" cy="506.99" r="6.6"/>
<circle cx="640.39" cy="506.99" r="6.6"/>
<circle cx="646.36" cy="506.99" r="6.6"/>
<circle cx="652.32" cy="506.99" r="6.6"/>
<circle cx="658.29" cy="506.99" r="6.6"/>
<circle cx="664.25" cy="506.99" r="6.6"/>
<circle cx="670.22" cy="506.99" r="6.6"/>
<circle cx="676.18" cy="506.99" r="6.6"/>
<circle cx="682.15" cy="506.99" r="6.6"/>
<circle cx="688.11" cy="506.99" r="6.6"/>
<circle cx="694.08" cy="506.99" r="6.6"/>
<circle cx="700.05" cy="503.8" r="6.6"/>
<circle cx="706.01" cy="499.8" r="6.6"/>
<circle cx="711.98" cy="496.9" r="6.6"/>
<circle cx="717.94" cy="493" r="6.6"/>
<circle cx="723.91" cy="490.3" r="6.6"/>
<circle cx="729.87" cy="487" r="6.6"/>
<circle cx="735.84" cy="485.5" r="6.6"/>
<circle cx="741.8" cy="483.5" r="6.6"/>
<circle cx="747.77" cy="483" r="6.6"/>
<circle cx="753.73" cy="482.8" r="6.6"/>
<circle cx="759.7" cy="482.8" r="6.6"/>
<circle cx="765.66" cy="482.8" r="6.6"/>
<circle cx="771.63" cy="481.8" r="6.6"/>
<circle cx="777.59" cy="479.8" r="6.6"/>
<circle cx="783.56" cy="478.3" r="6.6"/>
<circle cx="789.52" cy="476.1" r="6.6"/>
<circle cx="795.49" cy="473.9" r="6.6"/>
<circle cx="801.45" cy="471.6" r="6.6"/>
<circle cx="807.42" cy="469.4" r="6.6"/>
<circle cx="813.39" cy="467.9" r="6.6"/>
<circle cx="819.35" cy="467.9" r="6.6"/>
<circle cx="825.32" cy="466.4" r="6.6"/>
<circle cx="831.28" cy="461.2" r="6.6"/>
<circle cx="837.25" cy="458.2" r="6.6"/>
<circle cx="843.21" cy="456.4" r="6.6"/>
<circle cx="849.18" cy="455.5" r="6.6"/>
<circle cx="855.14" cy="455.5" r="6.6"/>
<circle cx="861.11" cy="455.5" r="6.6"/>
<circle cx="867.07" cy="455.5" r="6.6"/>
<circle cx="873.04" cy="455.5" r="6.6"/>
<circle cx="879" cy="453" r="6.6"/>
<circle cx="884.97" cy="450.8" r="6.6"/>
<circle cx="890.93" cy="449.3" r="6.6"/>
<circle cx="896.9" cy="448.1" r="6.6"/>
<circle cx="902.86" cy="445.6" r="6.6"/>
</g></g>
<rect x="291" y="22.2" width="490.2" height="38.7" fill="#000"/>
<rect x="288.5" y="19.5" width="489.8" height="38.8" fill="#fff" stroke="#505050" stroke-width="1"/>
<text x="294.2 314.6 333 352.1 372.5 392.9 412.9 433.1 454.4 474.3 494.9 515.5 536.1 556.7 577.8 600.8 621.2 642.2 656.5 668.6 680.6 692.7 706.3 730.8 752.8" y="48.7" font-size="20">世界と主要新興国の金準備推移（月別、<tspan class="dj" font-size="19">2015</tspan>年～）</text>
<rect x="199.3" y="593.2" width="744.3" height="42.8" fill="#fff" stroke="#404040" stroke-width="1"/>
<rect x="213.7" y="609.9" width="26.8" height="10.4" fill="#CCFFFF"/>
<line x1="288.9" y1="614.8" x2="316.6" y2="614.8" stroke="#FF00FF" stroke-width="1.8"/>
<circle cx="302.8" cy="614.8" r="5.6" fill="#FF00FF"/>
<line x1="364.2" y1="614.8" x2="391.9" y2="614.8" stroke="#CC66FF" stroke-width="1.8"/>
<circle cx="378.1" cy="614.8" r="5.6" fill="#CC66FF"/>
<line x1="443.1" y1="614.8" x2="470.8" y2="614.8" stroke="#FF9900" stroke-width="1.8"/>
<circle cx="457" cy="614.8" r="5.6" fill="#FF9900"/>
<line x1="521.7" y1="614.8" x2="549.4" y2="614.8" stroke="#FF6699" stroke-width="1.8"/>
<circle cx="535.6" cy="614.8" r="5.6" fill="#FF6699"/>
<line x1="600.1" y1="614.8" x2="627.8" y2="614.8" stroke="#0066FF" stroke-width="1.8"/>
<circle cx="614" cy="614.8" r="5.6" fill="#0066FF"/>
<line x1="714.4" y1="614.8" x2="742.1" y2="614.8" stroke="#00B050" stroke-width="1.8"/>
<circle cx="728.3" cy="614.8" r="5.6" fill="#00B050"/>
<line x1="844.1" y1="614.8" x2="871.8" y2="614.8" stroke="#C00000" stroke-width="1.8"/>
<circle cx="858" cy="614.8" r="5.6" fill="#C00000"/>
<text y="96.00" font-size="14" class="dj"><tspan x="107.32" textLength="14.56" lengthAdjust="spacingAndGlyphs" class="jp">※</tspan><tspan x="119.09" textLength="46.46" lengthAdjust="spacingAndGlyphs">トルコは</tspan><tspan x="167.05" textLength="83.96" lengthAdjust="spacingAndGlyphs">2018年4月分</tspan><tspan x="250.97" textLength="29.21" lengthAdjust="spacingAndGlyphs">より、</tspan><tspan x="285.30" textLength="32.55" lengthAdjust="spacingAndGlyphs">ROM</tspan><tspan x="320.31" textLength="14.00" lengthAdjust="spacingAndGlyphs">（</tspan><tspan x="334.97" textLength="201.52" lengthAdjust="spacingAndGlyphs">Reserve Options Mechanism</tspan><tspan x="536.99" textLength="14.00" lengthAdjust="spacingAndGlyphs">）</tspan><tspan x="551.21" textLength="24.67" lengthAdjust="spacingAndGlyphs">制度</tspan><tspan x="575.85" textLength="38.18" lengthAdjust="spacingAndGlyphs">により、</tspan><tspan x="620.91" textLength="58.54" lengthAdjust="spacingAndGlyphs">民間銀行</tspan><tspan x="679.29" textLength="13.02" lengthAdjust="spacingAndGlyphs">が</tspan><tspan x="693.28" textLength="55.96" lengthAdjust="spacingAndGlyphs">外貨準備</tspan><tspan x="747.90" textLength="31.96" lengthAdjust="spacingAndGlyphs">として</tspan><tspan x="780.48" textLength="28.18" lengthAdjust="spacingAndGlyphs">所有</tspan><tspan x="808.21" textLength="25.37" lengthAdjust="spacingAndGlyphs">する</tspan><tspan x="832.75" textLength="14.29" lengthAdjust="spacingAndGlyphs">金</tspan><tspan x="846.89" textLength="13.02" lengthAdjust="spacingAndGlyphs">が</tspan><tspan x="859.99" textLength="28.51" lengthAdjust="spacingAndGlyphs">除外</tspan><tspan x="888.58" textLength="34.93" lengthAdjust="spacingAndGlyphs">された</tspan><tspan x="926.12" textLength="14.00" lengthAdjust="spacingAndGlyphs">。</tspan></text>
<text y="284.00" font-size="16" class="dj"><tspan x="275.28" textLength="16.64" lengthAdjust="spacingAndGlyphs" class="jp">※</tspan><tspan x="292.32" textLength="40.10" lengthAdjust="spacingAndGlyphs">2018</tspan><tspan x="332.12" textLength="16.60" lengthAdjust="spacingAndGlyphs">年</tspan><tspan x="350.24" textLength="19.35" lengthAdjust="spacingAndGlyphs">10</tspan><tspan x="370.36" textLength="30.27" lengthAdjust="spacingAndGlyphs">月分</tspan><tspan x="399.03" textLength="14.78" lengthAdjust="spacingAndGlyphs">と</tspan><tspan x="412.01" textLength="40.41" lengthAdjust="spacingAndGlyphs">2022</tspan><tspan x="451.75" textLength="16.05" lengthAdjust="spacingAndGlyphs">年</tspan><tspan x="469.55" textLength="19.23" lengthAdjust="spacingAndGlyphs">10</tspan><tspan x="489.57" textLength="29.36" lengthAdjust="spacingAndGlyphs">月分</tspan><tspan x="518.92" textLength="13.87" lengthAdjust="spacingAndGlyphs">の</tspan><tspan x="532.87" textLength="61.87" lengthAdjust="spacingAndGlyphs">世界合計</tspan><tspan x="595.58" textLength="12.09" lengthAdjust="spacingAndGlyphs">は</tspan><tspan x="608.51" textLength="47.49" lengthAdjust="spacingAndGlyphs">未発表</tspan></text>
<text y="638.20" font-size="16" class="dj"><tspan x="2.88" textLength="16.64" lengthAdjust="spacingAndGlyphs" class="jp">※</tspan><tspan x="19.49" textLength="41.05" lengthAdjust="spacingAndGlyphs">2026</tspan><tspan x="59.74" textLength="16.16" lengthAdjust="spacingAndGlyphs">年</tspan><tspan x="76.43" textLength="10.59" lengthAdjust="spacingAndGlyphs">2</tspan><tspan x="87.27" textLength="14.89" lengthAdjust="spacingAndGlyphs">月</tspan><tspan x="100.94" textLength="33.96" lengthAdjust="spacingAndGlyphs">時点</tspan></text>
<text y="665.00" font-size="16"><tspan x="2.88" textLength="16.64" lengthAdjust="spacingAndGlyphs" class="jp">※</tspan><tspan x="19.11" textLength="78.43" lengthAdjust="spacingAndGlyphs">小数点以下</tspan><tspan x="97.25" textLength="13.27" lengthAdjust="spacingAndGlyphs">は</tspan><tspan x="111.45" textLength="64.05" lengthAdjust="spacingAndGlyphs">四捨五入</tspan></text>
<text y="662.60" font-size="15.4" class="dj"><tspan x="779.15" textLength="15.40" lengthAdjust="spacingAndGlyphs">（</tspan><tspan x="795.62" textLength="38.13" lengthAdjust="spacingAndGlyphs">WGC</tspan><tspan x="833.21" textLength="12.68" lengthAdjust="spacingAndGlyphs">の</tspan><tspan x="846.53" textLength="30.35" lengthAdjust="spacingAndGlyphs">資料</tspan><tspan x="876.24" textLength="13.43" lengthAdjust="spacingAndGlyphs">を</tspan><tspan x="889.81" textLength="15.68" lengthAdjust="spacingAndGlyphs">基</tspan><tspan x="906.17" textLength="11.09" lengthAdjust="spacingAndGlyphs">に</tspan><tspan x="918.54" textLength="16.02" lengthAdjust="spacingAndGlyphs">豊</tspan><tspan x="934.26" textLength="57.06" lengthAdjust="spacingAndGlyphs">トラスティ</tspan><tspan x="989.91" textLength="63.19" lengthAdjust="spacingAndGlyphs">証券作成</tspan><tspan x="1055.20" textLength="15.40" lengthAdjust="spacingAndGlyphs">）</tspan></text>
<text y="81.70" font-size="16"><tspan x="12.25" textLength="16.00" lengthAdjust="spacingAndGlyphs">（</tspan><tspan x="28.85" textLength="48.62" lengthAdjust="spacingAndGlyphs">新興国</tspan><tspan x="77.45" textLength="16.00" lengthAdjust="spacingAndGlyphs">）</tspan></text>
<text y="81.70" font-size="16"><tspan x="969.25" textLength="16.00" lengthAdjust="spacingAndGlyphs">（</tspan><tspan x="985.86" textLength="63.49" lengthAdjust="spacingAndGlyphs">世界合計</tspan><tspan x="1050.40" textLength="16.00" lengthAdjust="spacingAndGlyphs">）</tspan></text>
<text y="553.05" font-size="16" class="dj"><tspan x="65.38" textLength="10.36" lengthAdjust="spacingAndGlyphs">0</tspan><tspan x="76.08" textLength="14.37" lengthAdjust="spacingAndGlyphs" class="jp" font-size="15.8">㌧</tspan></text>
<text y="464.45" font-size="16" class="dj"><tspan x="46.24" textLength="29.46" lengthAdjust="spacingAndGlyphs">500</tspan><tspan x="76.08" textLength="14.37" lengthAdjust="spacingAndGlyphs" class="jp" font-size="15.8">㌧</tspan></text>
<text y="375.85" font-size="16" class="dj"><tspan x="27.97" textLength="47.80" lengthAdjust="spacingAndGlyphs">1,000</tspan><tspan x="76.08" textLength="14.37" lengthAdjust="spacingAndGlyphs" class="jp" font-size="15.8">㌧</tspan></text>
<text y="287.25" font-size="16" class="dj"><tspan x="27.97" textLength="47.80" lengthAdjust="spacingAndGlyphs">1,500</tspan><tspan x="76.08" textLength="14.37" lengthAdjust="spacingAndGlyphs" class="jp" font-size="15.8">㌧</tspan></text>
<text y="198.65" font-size="16" class="dj"><tspan x="28.77" textLength="46.98" lengthAdjust="spacingAndGlyphs">2,000</tspan><tspan x="76.08" textLength="14.37" lengthAdjust="spacingAndGlyphs" class="jp" font-size="15.8">㌧</tspan></text>
<text y="110.05" font-size="16" class="dj"><tspan x="28.77" textLength="46.98" lengthAdjust="spacingAndGlyphs">2,500</tspan><tspan x="76.08" textLength="14.37" lengthAdjust="spacingAndGlyphs" class="jp" font-size="15.8">㌧</tspan></text>
<text y="553.05" font-size="16" class="dj"><tspan x="979.86" textLength="58.10" lengthAdjust="spacingAndGlyphs">30,000</tspan><tspan x="1038.15" textLength="14.61" lengthAdjust="spacingAndGlyphs" class="jp" font-size="15.8">㌧</tspan></text>
<text y="331.55" font-size="16" class="dj"><tspan x="979.86" textLength="58.10" lengthAdjust="spacingAndGlyphs">35,000</tspan><tspan x="1038.15" textLength="14.61" lengthAdjust="spacingAndGlyphs" class="jp" font-size="15.8">㌧</tspan></text>
<text y="110.05" font-size="16" class="dj"><tspan x="980.13" textLength="57.84" lengthAdjust="spacingAndGlyphs">40,000</tspan><tspan x="1038.15" textLength="14.61" lengthAdjust="spacingAndGlyphs" class="jp" font-size="15.8">㌧</tspan></text>
<text y="579.40" font-size="16" class="dj"><tspan x="80.13" textLength="40.73" lengthAdjust="spacingAndGlyphs">2015</tspan><tspan x="120.61" textLength="16.64" lengthAdjust="spacingAndGlyphs">年</tspan></text>
<text y="579.40" font-size="16" class="dj"><tspan x="151.72" textLength="40.47" lengthAdjust="spacingAndGlyphs">2016</tspan><tspan x="192.19" textLength="16.64" lengthAdjust="spacingAndGlyphs">年</tspan></text>
<text y="579.40" font-size="16" class="dj"><tspan x="223.30" textLength="40.73" lengthAdjust="spacingAndGlyphs">2017</tspan><tspan x="263.77" textLength="16.64" lengthAdjust="spacingAndGlyphs">年</tspan></text>
<text y="579.40" font-size="16" class="dj"><tspan x="294.89" textLength="40.47" lengthAdjust="spacingAndGlyphs">2018</tspan><tspan x="335.36" textLength="16.64" lengthAdjust="spacingAndGlyphs">年</tspan></text>
<text y="579.40" font-size="16" class="dj"><tspan x="366.47" textLength="40.47" lengthAdjust="spacingAndGlyphs">2019</tspan><tspan x="406.94" textLength="16.64" lengthAdjust="spacingAndGlyphs">年</tspan></text>
<text y="579.40" font-size="16" class="dj"><tspan x="438.06" textLength="40.47" lengthAdjust="spacingAndGlyphs">2020</tspan><tspan x="478.52" textLength="16.64" lengthAdjust="spacingAndGlyphs">年</tspan></text>
<text y="579.40" font-size="16" class="dj"><tspan x="509.63" textLength="41.00" lengthAdjust="spacingAndGlyphs">2021</tspan><tspan x="550.11" textLength="16.64" lengthAdjust="spacingAndGlyphs">年</tspan></text>
<text y="579.40" font-size="16" class="dj"><tspan x="581.21" textLength="41.00" lengthAdjust="spacingAndGlyphs">2022</tspan><tspan x="621.69" textLength="16.64" lengthAdjust="spacingAndGlyphs">年</tspan></text>
<text y="579.40" font-size="16" class="dj"><tspan x="652.80" textLength="40.73" lengthAdjust="spacingAndGlyphs">2023</tspan><tspan x="693.27" textLength="16.64" lengthAdjust="spacingAndGlyphs">年</tspan></text>
<text y="579.40" font-size="16" class="dj"><tspan x="724.40" textLength="40.21" lengthAdjust="spacingAndGlyphs">2024</tspan><tspan x="764.86" textLength="16.64" lengthAdjust="spacingAndGlyphs">年</tspan></text>
<text y="579.40" font-size="16" class="dj"><tspan x="795.97" textLength="40.73" lengthAdjust="spacingAndGlyphs">2025</tspan><tspan x="836.44" textLength="16.64" lengthAdjust="spacingAndGlyphs">年</tspan></text>
<text y="579.40" font-size="16" class="dj"><tspan x="867.56" textLength="40.47" lengthAdjust="spacingAndGlyphs">2026</tspan><tspan x="908.02" textLength="16.64" lengthAdjust="spacingAndGlyphs">年</tspan></text>
<text y="620.40" font-size="16"><tspan x="243.25" textLength="32.16" lengthAdjust="spacingAndGlyphs">世界</tspan></text>
<text y="620.40" font-size="16"><tspan x="316.92" textLength="33.81" lengthAdjust="spacingAndGlyphs">中国</tspan></text>
<text y="620.40" font-size="16"><tspan x="391.22" textLength="37.97" lengthAdjust="spacingAndGlyphs">ロシア</tspan></text>
<text y="620.40" font-size="16"><tspan x="470.88" textLength="39.15" lengthAdjust="spacingAndGlyphs">インド</tspan></text>
<text y="620.40" font-size="16"><tspan x="545.60" textLength="41.13" lengthAdjust="spacingAndGlyphs">トルコ</tspan></text>
<text y="620.40" font-size="16"><tspan x="627.75" textLength="73.82" lengthAdjust="spacingAndGlyphs">カザフスタン</tspan></text>
<text y="620.40" font-size="16"><tspan x="741.63" textLength="88.06" lengthAdjust="spacingAndGlyphs">ウズベキスタン</tspan></text>
<text y="620.40" font-size="16"><tspan x="871.51" textLength="62.45" lengthAdjust="spacingAndGlyphs">ポーランド</tspan></text>
<rect x="0" y="667" width="1071.6" height="4.1" fill="#002060"/>
</svg></body></html>
